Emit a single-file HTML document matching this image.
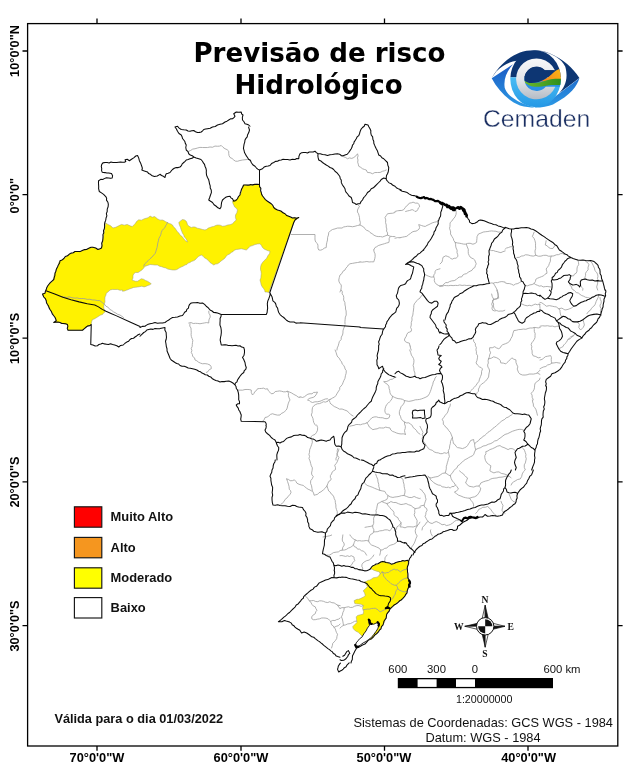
<!DOCTYPE html>
<html lang="pt-BR">
<head>
<meta charset="utf-8">
<title>Previsão de risco Hidrológico</title>
<style>
html,body{margin:0;padding:0;background:#fff;}
body{width:642px;height:768px;overflow:hidden;position:relative;font-family:"Liberation Sans",sans-serif;}
svg{position:absolute;left:0;top:0;display:block;}
.ax{font-family:"Liberation Sans",sans-serif;font-weight:bold;font-size:12.8px;fill:#000;}
.title{font-family:"DejaVu Sans","Liberation Sans",sans-serif;font-weight:bold;font-size:26.1px;fill:#000;}
.leg{font-family:"Liberation Sans",sans-serif;font-weight:bold;font-size:12.9px;fill:#111;}
.sb{font-family:"Liberation Sans",sans-serif;font-size:11.3px;fill:#111;}
.crs{font-family:"Liberation Sans",sans-serif;font-size:12.8px;fill:#111;}
.cmp{font-family:"Liberation Serif",serif;font-weight:bold;font-size:9.6px;fill:#111;}
.logo{font-family:"Liberation Sans",sans-serif;font-size:24.6px;fill:#1b2f62;}
</style>
</head>
<body>
<svg width="642" height="768" viewBox="0 0 642 768">
<rect x="0" y="0" width="642" height="768" fill="#fff"/>
<!-- map -->
<g stroke-linejoin="round" stroke-linecap="round">
<path fill="#fff200" stroke="#9a9a7a" stroke-width="0.5" d="M370.23 569.06L371.64 566.95L372.95 565.89L374.45 565.12L376.35 564.77L377.97 563.72L380.78 562.03L382.53 561.72L384.3 561.75L386.13 561.99L387.81 562.73L389.42 563.81L391.33 564.14L394.14 563.44L395.95 562.86L397.66 562.03L399.45 561.87L401.17 561.33L402.95 561.28L404.69 560.91L407.5 560.34L408.62 561.33L407.93 563.03L408.2 564.84L407.74 566.61L407.22 568.36L407.02 570.15L407.5 571.88L407.51 574L407.92 576.09L408.07 577.95L408.91 579.61L409.32 581.35L409.61 583.12L408.9 585.18L408.62 587.34L407.85 589.07L407.22 590.86L406.69 592.69L405.81 594.38L405.14 595.94L403.98 597.19L402.49 598.51L401.17 600L400.02 601.39L398.36 602.11L396.71 602.84L395.55 604.22L394.35 605.56L392.73 606.33L391.66 608.07L389.92 609.14L389.2 611.1L387.81 612.66L386.71 614.26L386.41 616.17L385.85 617.99L385 619.69L384.63 621.58L383.59 623.2L382.94 625.2L381.48 626.72L380.82 628.71L379.38 630.23L377.82 631.87L376.56 633.75L375.06 635.06L373.75 636.56L371.64 638.67L370.23 639.38L368.04 640.25L366.02 641.48L365.72 639.49L364.55 637.73L364.52 635.66L363.91 633.75L362.5 636.56L360.39 634.45L358.28 632.34L355.47 630.94L353.36 628.83L352.66 626.72L354.77 624.61L356.88 622.5L356.59 619.69L356.17 616.88L357.58 615.47L360.39 614.77L363.2 614.06L363.62 611.25L362.5 608.44L363.2 605.62L361.09 604.22L358.28 603.94L356.51 603.87L354.77 603.52L354.06 600.7L356.88 599.3L358.7 599.26L360.39 598.59L363.2 597.19L365.31 595.78L364.61 592.97L363.2 590.86L365.31 588.75L367.42 586.64L366.02 583.83L364.61 581.72L366.48 581.31L368.12 580.31L370.02 579.97L371.64 578.91L373.24 577.8L375.16 577.5L377.05 577.14L378.67 576.09L380.08 573.98L379.38 571.88L376.56 571.17L373.75 570.19L372.12 569.23ZM105.76 222.99L107.91 224.42L110.77 225.85L112.92 228L115.78 227.28L118.64 225.85L121.5 224.42L124.36 225.13L127.23 224.42L130.09 225.85L132.24 226.57L134.38 224.42L135.6 223.1L136.53 221.56L138.68 219.84L141.54 220.13L144.4 218.69L147.26 217.98L148.78 217.19L150.13 216.12L152.27 217.26L154.42 216.55L155.94 217.5L157.28 218.69L160 220.13L162.5 220L164.21 220.76L165.76 221.81L167.5 222.5L169.08 223.51L170.95 223.94L172.5 225L173.47 226.87L175.12 228.24L176.25 230L177.4 231.74L179 233.14L180 235L182.15 236.6L183.75 238.75L185.35 240.69L187.5 242L186.77 240.14L185.81 238.4L184.28 236.97L183.75 235L182.52 233.31L181.81 231.38L181.04 229.5L180.5 227.5L179.44 225.07L178.75 222.5L180.55 220.91L182.5 219.5L184.57 219.96L186.25 221.25L187.05 223.07L187.5 225L189.3 226.37L191.25 227.5L193.08 226.93L195 227L197.39 228.2L200 228.75L202.48 229.44L205 230L206.76 229.36L208.22 228.11L210 227.5L211.85 226.81L213.81 226.42L215.58 225.48L217.5 225L220.12 225.14L222.5 226.25L225.08 225.95L227.5 225L230.07 224.64L232.5 223.75L234.22 221.72L236.25 220L235.42 217.57L235.5 215L236.83 212.63L237.5 210L236.34 208.27L234.64 206.94L233.75 205L232.88 203.21L232.5 201.25L233.99 200.07L235.96 199.84L237.5 198.75L238.51 196.71L240 195L241 193.12L241.44 191.07L241.4 188.88L242.59 187.06L243 185L245.33 184.89L247.67 185.25L250 185L252.39 185.2L254.74 184.53L257.1 184.22L259.5 184.5L259.5 186.6L260.45 188.48L260.39 190.59L261.25 192.5L261.91 194.25L262.7 195.94L263.75 197.5L265.39 199.61L267.5 201.25L269.3 202.61L271.25 203.75L272.54 205.6L273.75 207.5L275.87 208.38L277.5 210L279.31 210.81L281.25 211.25L283.16 212.44L285 213.75L286.87 215.01L288.75 216.25L290.44 217.51L292.5 218L294.55 217.46L296.69 217.93L298.75 217.5L297.13 219.13L295 220L293.75 222.5L268.75 292.5L266.9 292.05L265 292L264.66 290.27L263.75 288.75L262.3 287.01L261.25 285L260.67 282.49L260 280L260.88 278.01L260.97 275.86L261.25 273.75L261.04 271.66L260.5 269.61L260.5 267.5L261.09 264.84L262.5 262.5L264.27 260.52L266.25 258.75L267.26 257.04L268.17 255.25L269.5 253.75L270 251.25L268.07 250.8L266.25 250L264.17 249.05L262.5 247.5L261.42 245.51L260 243.75L257.47 243.96L255 244.5L252.59 245.62L250 246.25L248.31 248.31L246.25 250L243.75 249.36L241.25 248.75L238.76 249.18L236.25 249.5L234.36 250.13L232.99 251.63L231.25 252.5L229.7 253.91L227.69 254.69L226.25 256.25L224.63 258.38L222.5 260L220.8 261.2L219.27 262.63L217.5 263.75L215.53 264.08L213.75 265L211.9 263.71L210 262.5L208.31 260.44L206.25 258.75L204.38 257.76L203.02 256.12L201.25 255L198.75 256.25L196.81 258.06L195 260L193.35 260.87L191.55 261.43L190 262.5L188.19 263.04L186.84 264.51L185 265L183.43 266.02L181.73 266.79L180 267.5L178.46 268.6L176.86 269.56L175 270L172.48 269.97L170 269.5L167.82 269.12L165.89 267.97L163.75 267.5L161.65 266.71L159.44 266.19L157.5 265L154.99 265.01L152.5 264.7L150 264.5L147.55 265.5L145 266.25L143.57 268.15L141.97 269.89L140 271.25L138.1 272.54L135.65 272.46L133.75 273.75L132.93 275.77L132.98 278.03L132 280L133.79 280.63L135.56 281.3L137.5 281.25L139.41 280.05L141.25 278.75L143.48 279.22L145.42 280.41L147.5 281.25L149.41 282.45L151.25 283.75L149.72 284.86L147.9 285.38L146.25 286.25L144.1 286.93L141.84 286.21L139.68 286.67L137.5 287L135.6 287.31L133.65 287.45L131.84 288.16L130 288.75L128.2 289.61L126.33 290.24L124.49 290.97L122.5 291.25L122.5 290L119.97 290.3L117.52 289.39L115 289.5L112.47 289.41L110 290L108.26 291.78L106.25 293.25L105.92 295.22L105 297L104.86 299.5L105 302L104.24 304.02L103.75 306.08L103.75 308.25L104.69 310.02L105 312L103.55 313.05L102.5 314.5L100.69 315.04L99.06 315.95L97.5 317L95.91 317.99L94.31 318.95L92.5 319.5L91.56 321.92L91.25 324.5L89.66 325.49L87.98 326.28L86.25 327L84.34 328.59L82.5 330.25L68 330.25L67.7 328.34L68 326.39L67.5 324.5L65.56 324.25L63.63 323.94L61.89 322.94L60 322.5L57.92 322.37L55.83 322.18L53.75 322.5L56.25 320.75L55.6 318.99L54.95 317.24L53.75 315.75L52.88 313.44L51.25 311.59L50 309.5L49.17 307.83L48.03 306.32L47.5 304.5L46.68 302.69L46.25 300.75L45.07 298.83L43.75 297L42.5 294L45 293.25L45.23 291.24L46.25 289.5L47.25 287.92L47.62 286.02L48.75 284.5L50.38 282.79L52.42 281.5L53.75 279.5L53.76 277.34L54.13 275.24L55 273.25L55.78 271.14L56.38 268.97L57.5 267L58.54 265L58.71 262.65L60 260.75L62.06 259.78L63.95 258.55L65.78 257.24L67.5 255.75L69.34 254.62L71.14 253.44L73.2 252.7L75 251.5L77.5 251.51L80 251.5L82.86 250.18L84.63 249.74L86.44 249.46L89.3 248.03L91.06 247.52L92.88 247.32L95.74 248.03L97.89 249.46L100.04 248.75L101.47 248.03Z"/>
<path fill="none" stroke="#9c9c9c" stroke-width="0.8" d="M341.25 156.25L343.49 156.7L345.59 157.49L347.5 158.75L349.5 157.91L351.77 158.41L353.75 157.5L355.89 155.89L357.5 153.75L358.1 155.8L357.43 157.95L358 160L357.66 162.15L358.31 164.19L358.75 166.25L360.73 167.35L362.5 168.75L364.36 169.43L366.25 170L367.5 172.5L370.11 172.68L372.5 173.75L374.85 172.54L377.5 172.5L380.14 172.44L382.5 171.25L384.43 170.8L386.25 170M291.25 234.5L315 234.5L314.97 237.25L315 240L315.8 242.17L317.5 243.75L318 245.82L317.88 248.01L318.75 250L320.68 250.15L322.5 249.5L324.21 248.18L326.25 247.5L326.36 244.95L326.83 242.46L327.5 240L327.6 237.45L328.44 235.02L328.75 232.5L330.44 230.77L332.5 229.5L334.98 228.9L337.41 228.05L340 228L341.99 228.06L343.71 226.95L345.61 226.64L347.5 226.25L350 226.35L352.5 226.75L355 226.25L357.48 225.53L360 225L360.35 222.47L359.67 220L359.5 217.5L359.04 215.61L358.53 213.74L357.42 212.03L357.5 210L358.43 208.09L359.5 206.25L357.5 204.5M360 225L361.9 225.94L363.7 227.01L365 228.75L366.44 230.3L368.58 230.92L370 232.5L372.1 233.72L374.02 235.24L376.25 236.25L378.32 236.57L380.44 236.54L382.5 237L385.01 236.02L387.5 235L390 236.25L392.49 236.5L395 236.62M387.5 235L387.6 232.96L386.52 231.06L386.82 228.99L386.19 227.04L386.25 225L385.56 222.55L385.75 219.94L385 217.5L386.26 215.63L387.5 213.75L390.01 213.41L392.55 213.23L395 212.5M390 237L389.08 238.72L389.24 240.68L388.75 242.5L386.52 242.99L384.37 243.74L382.18 244.36L380 245L378.23 245.62L376.69 246.72L375 247.5L373.86 249.77M360 262.08L357.5 262.5L354.99 262.88L352.5 263.36L350 263.75L348.32 264.97L347.31 266.72L345.89 268.15L345 270L342.95 271.28L341.88 273.54L340 275L339.3 277.48L338.75 280L339.09 281.91L340.04 283.52L341.25 285L341.28 287.41L340.88 289.75L340 292M188.75 151.25L190.81 150.35L192.72 149.09L195 148.75L197.45 148.02L199.91 147.39L202.5 147.5L205.01 147.54L207.52 147.52L210 147L212.55 147.24L214.96 146.07L217.5 146.25L219.43 146.14L221.25 145.5L222.99 147.28L225 148.75L227.12 149.63L228.75 151.25L228.7 153.43L229.01 155.53L230 157.5L232.07 158.46L233.75 160L235.45 161.16L237.5 161.25L239.97 160.5L242.5 160L245 159.73L247.5 159.5L250 159.5M395 211.5L397.46 210.8L400 210.5M395 238.25L397.46 237.62L400 237.75M410.25 346L410.47 348.07L411.25 350M341.25 290L342.34 291.72L342.11 293.88L343.38 295.54L343.75 297.5L343.63 300.09L344.89 302.45L345 305L345.54 306.96L345.49 309L346.13 310.95L346.16 312.98L346.25 315L345.38 317.11L345.15 319.31L344.93 321.51L345 323.75M345 325L344.34 326.96L343.5 328.88L342.97 330.87L342.94 332.99L342.5 335L341.31 337.08L341.14 339.6L339.42 341.45L338.75 343.75L338.21 345.87L337.24 347.88L336.94 350.07M330.09 399.2L328.75 400L327.5 401.25M300 396.67L302.5 397.5L304.46 396.72L306.13 395.39L307.87 394.19L310 393.75L312 393.83L313.64 392.42L315.62 392.4L317.5 392L316.42 394.22L315 396.25L313.24 397.41L311.12 397.86L309.11 398.53L307.5 400L309.3 400.57L310.75 401.84L312.5 402.5L314.96 401.84L317.51 401.74L320 401.25L321.83 400.5L323.62 399.61L325.49 398.98L327.5 398.75M328.75 400L330.09 402.23M327.5 401.25L325.59 402.1L323.38 401.76L321.5 402.75L319.58 403.59L317.5 403.75L315.53 404.6L313.8 405.76L312.5 407.5L312.14 410.01L312.11 412.57L311.25 415L312.24 416.75L312.98 418.59L313.31 420.56L313.75 422.5L315.36 425.18M188.75 323L191.04 322.57L193.24 323.5L195.51 323.3L197.76 323.44L200 323.75L202.17 323.35L204.34 322.97L206.51 322.57L208.75 323L208.79 320.96L209.19 318.97L210.25 317.09L210 315L208.93 313.27L208.75 311.25M190 323.75L189.74 326.02L190.98 328.07L191.11 330.29L191.25 332.5L191.1 334.55L191.35 336.55L192.08 338.49L192.8 340.43L192.5 342.5L192.28 344.5L192.16 346.52L191.23 348.44L191.88 350.55L191.25 352.5L192.34 354.3L192.68 356.47L194.58 357.86L195 360L196.92 360.84L198.58 362.22L200.48 363.11L202.5 363.75L205.09 363.6L207.59 364.01L210 365L211.14 366.7L211.25 368.75L209.27 369.58L208.1 371.49L206.25 372.5M237.5 390L240.02 390.14L242.53 390.16L245 389.5L247.1 389.47L249.19 389.55L251.25 390L251.32 392.64L252.5 395L253.86 393.53L254.77 391.69L256.46 390.48L257.5 388.75L259.5 388.52L261.5 388.47L263.5 388.13L265.5 389.07L267.5 388.75L268.34 390.73L269.87 392.18L271.25 393.75L273.54 393.43L275.2 391.54L277.5 391.25L279.5 390.92L281.5 391.22L283.5 391.82L285.5 391.81L287.5 391.25L289.44 392.06L291.39 392.85L293.16 393.98L295 395L296.67 395.83L298.1 397.14L300 397.5M287.5 391.25L288.5 393.33L288.39 395.73L289.09 397.89L290 400L288.88 401.86L288.18 403.88L287.63 405.95L287.2 408.07L286.25 410L284.83 411.42L283.23 412.63L281.34 413.48L280 415L277.41 415.1L274.94 414.54L272.5 413.75L270.48 414.41L268.89 415.91L267.12 417.05L265 417.5L264.23 419.7L262.5 421.25M62.88 296.5L64.87 297.09L66.87 297.55L69.03 296.76L71 297.5L73.02 297.87L75.04 298.15L77.13 297.9L79.12 298.5L81.17 298.56L83.23 298.5L85.26 298.8L87.25 299.38L89.78 299.28L92.24 299.92L94.75 300L97.23 300.5L99.75 300.62L102.25 302.5L104.39 304.11L106 306.25L108.26 307.35L109.75 309.38L111.74 310.45L113.5 311.88L116 313.12L117.76 314.41L119.95 314.97L121.74 316.2L123.5 317.5M422.5 295L420.92 296.29L420 298.12L418.25 299.13L416.88 300.62L415.66 302.21L414.38 303.75L413.77 305.58L413.75 307.5L413.49 310.01L413.12 312.5L412.83 315.08L411.88 317.5L412.05 320.06L411.25 322.5L411.26 325.04L410.62 327.5L411.5 329.28L411.25 331.25L409.76 332.06L408.12 332.5L406.91 334.24L406.25 336.25L405.1 338.02L404.38 340L405.33 341.55L406.88 342.5L409.38 343.12L410 346M373.75 250L374.13 251.96L375 253.75L375.16 256.26L374.75 258.75L373.75 261.88L371.46 261.81L369.17 261.96L366.88 261.52L364.58 261.85L362.29 262.17L360 261.88M425 274.38L426.8 275.47L428.75 276.25L431.18 277.14L433.75 276.88L433.82 274.93L435.04 273.23L435 271.25L436.4 269.88L438.2 269.32L440 268.75M433.75 276.88L434.49 278.68L434.29 280.69L435 282.5L436.34 284.19L438.15 285.24L440 286.25M380.08 573.98L382.19 571.88L385 573.28L386.69 572.57L388.52 572.58L389.75 571.29L391.33 570.47L394.14 569.06L395.8 569.9L397.66 569.77L399.06 570.83L400.47 571.88L402.15 570.7L403.98 569.77L405.92 569.51L407.5 568.36M382.19 571.88L383.2 573.88L383.59 576.09L385.04 577.82L386.41 579.61L388.14 581.05L389.92 582.42L391.14 583.73L392.73 584.53L394.43 585.19L396.25 585.23L397.78 583.95L399.06 582.42L400.7 580.87L402.58 579.61L404.25 578.71L406.09 578.2L408.2 577.5M396.25 585.23L397.35 586.83L397.66 588.75L399.2 590.17L401.17 590.86L402.88 591.54L404.69 591.84L406.8 591.28M397.66 588.75L396.35 590.36L395.55 592.27L395.23 594.18L394.14 595.78L392.73 598.59L390.62 600M363.2 609.84L365.3 609.42L367.42 609.14L369.59 609.12L371.64 608.44L373.41 608.4L375.16 608.16L377.97 609.84L380.08 611.95L382.89 610.55L385.7 609.14M340 608.44L342.03 607.63L344.22 607.73L346.32 607.19L348.44 606.75L350.49 607.5L352.66 607.31L354.65 606.16L356.88 605.62L359.05 605.6L361.09 606.33L363.2 605.62M340 628.12L341.61 626.52L343.52 625.31L345.7 624.85L347.73 623.91L350.31 623.61L352.66 622.5L354.48 621.39L356.59 621.09M344.22 607.73L343.93 610.31L342.81 612.66L342.41 614.87L341.41 616.88L342.31 618.92L342.81 621.09L343.14 623.2L343.52 625.31M340 555.7L341.93 555.52L343.77 555.96L345.62 556.41L347.45 555.79L349.45 556.52L351.25 555.7L354.06 557.11L354.14 558.92L354.77 560.62L352.66 562.73L352 564.44L350.55 565.55M362.5 570.19L362.71 568.12L361.8 566.25L362.04 564.31L363.2 562.73L364.89 561.55L366.72 560.62L369.1 560.11L370.94 558.52L372.63 556.99L373.75 555M384.3 561.75L384.93 559.83L385 557.81L385.99 556.36L387.11 555M450.37 404.05L450.05 406.19L448.86 408.04L448.35 410.12L447.75 412.06L446.64 413.69L445.31 415.19L443.9 417.3L442.27 419.24L443.35 421.66L443.29 424.3L444.73 425.56L445.73 427.26L447.34 428.35L448.66 430.52L450.37 432.4L451.38 434.93L452.4 437.46L452.57 439.51L453.12 441.51L453.41 443.54L455.07 444.58L456.02 446.33L457.46 447.59L460.01 447.98L462.52 448.6L464.36 447.84L466.16 447.01L467.59 445.56L468.53 443.83L469.69 442.23L470.62 440.5L473.66 439.49L473.87 441.59L474.67 443.54L476.64 441.94L478.72 440.5L479.83 438.91L481.61 437.99L482.77 436.45L484.75 435.47L486.36 434.02L487.83 432.4L489.67 431.24L491.48 430.04L492.9 428.35L494.73 427.17L496.38 425.79L497.96 424.3L499.61 422.91L501.19 421.42L503.02 420.25L504.79 419.37L506.14 417.8L508.08 417.21L510.05 415.81L512.13 414.58M474.67 443.54L474.66 445.62L475.09 447.63L475.69 449.61L474.53 452.08L473.66 454.67L472.13 455.95L470.34 456.78L468.6 457.71L466.94 458.77L465.15 459.61L463.54 460.75L462.27 462.18L460.69 463.3L459.49 464.8L457.76 465.77L457.07 467.78L455.44 468.85L453.77 470.76L452.4 472.9L451.1 474.22L450.37 475.93L448.61 475.04L446.99 473.92L445.31 472.9L442.56 473.36L440.25 474.92L437.93 476.47L435.19 476.95L433.15 477.4L431.14 477.96L429.44 477.63L428.1 476.54M452.4 437.46L451.39 439.38L450.53 441.34L450.37 443.54L449.67 445.89L449.5 448.4L448.35 450.62L448.6 452.66L448.97 454.68L449.36 456.7L448.43 458.64L448 460.74L447.34 462.77L446.83 464.77L446.26 466.76L446.32 468.85L445.79 470.87L445.31 472.9M426.07 445.56L427.5 446.83L428.38 448.65L430.12 449.61L432.31 450.3L434.07 451.84L436.2 452.65L438.25 452.86L440.19 453.64L442.27 453.66L444.19 452.73L446.46 453.3L448.35 452.24M475.69 449.61L478.15 448.43L480.75 447.59L483.08 446.06L485.81 445.56L488.24 444.29L490.87 443.54L492.84 442.42L494.65 440.97L496.95 440.5L498.91 438.9L501 437.46L502.97 435.86L505.05 434.42L507.67 433.64L510.11 432.4L512.57 431.21L515.17 430.37L517.15 429.75L519.17 429.36L521.25 429.36L524.28 430.37M515.17 450.62L513.82 449.36L512.13 448.6L509.97 448.58L508.08 449.61L506.07 448.57L504.03 447.59L501.85 446.89L499.98 445.56L497.31 446.23L494.92 447.59L492.44 448.72L489.86 449.61L488 450.94L485.81 451.64L485.93 453.74L484.8 455.63L484.8 457.71L485.45 460.38L486.82 462.77L488.75 464.42L490.87 465.81L490.4 468.35L489.86 470.87L491.85 471.95L493.91 472.9L496.37 472.06L498.97 471.88L501.29 473.43L504.03 473.91L506.63 474.75L509.1 475.93L511.12 477.96M459.49 470.87L461.41 472.53L463.54 473.91L464.61 475.54L465.96 476.89L467.59 477.96L466.61 480.5L465.56 483.02L467.26 484.36L468.6 486.06L471.12 486.62L473.66 487.07L476.1 486.11L478.72 486.06L480.08 484.77L480.75 483.02L483.21 481.84L485.81 481L488.5 480.39L490.87 478.97L492.85 478.35L494.9 478.15L496.95 477.96L498.92 477.32L500.98 477.2L503.02 476.95L505.02 476.42L507.03 476.06L509.1 476.54M450.37 475.93L451.13 478.57L452.4 481L454.14 482.86L455.44 485.05L457.21 486.89L458.47 489.1L456.59 490.81L454.42 492.13L456.46 493.63L458.47 495.17L461.04 496.1L463.54 497.2L465.54 497.7L467.55 498.07L469.61 498.21L472.09 497.34L474.67 496.79L477.05 495.37L478.72 493.15L480.14 490.78L480.75 488.08L478.72 486.06M428.1 476.54L429.86 477.66L430.5 479.79L432.15 481L433.89 482.77L436 483.99L438.22 485.05L440.39 485.3L442.14 486.79L444.3 487.07L446.3 487.57L448.45 487.15L450.37 488.08L451.75 486.55L454.04 486.54L455.44 485.05M469.61 498.21L470.98 500.35L472.65 502.26L473.46 504.21L473.66 506.31M522.26 447.59L523.7 449.02L524.67 450.74L525.3 452.65L525.96 454.62L525.64 456.75L526.31 458.72L525.81 460.81L525.37 462.91L524.28 464.8L524.3 467.43L525.3 469.86L523.49 471.67L522.26 473.91L521.63 476.59L520.23 478.97L517.52 479.53L515.17 481L513.58 481.9L512.13 483.02L511.12 485.05M475.69 513.4L477.48 511.58L478.72 509.35L480.84 508.52L482.77 507.32L485.4 507.29L487.83 506.31L489.1 508.08L490.87 509.35L492.05 511.63L493.91 513.4L495.23 514.71L495.93 516.43M501 501.25L501.8 503.38L503.02 505.3L502.48 507.82L502.01 510.36L503.32 512.09L505.05 513.4M509.1 494.16L510.18 496.66L511.12 499.22L512.86 501.12L515.17 502.26M532.38 400L532.65 402.03L533.35 404L533.4 406.07L534.69 407.59L535.8 409.22L536.43 411.14L536.95 413.16L537.45 415.19M420 489.1L421.74 490.06L422.73 491.77L424.05 493.15L425.14 495.03L425.41 497.19L426.07 499.22L425.4 501.25L424.68 503.26L424.05 505.3L424.68 507.22L426.6 508.36L427.09 510.36L426.01 512.25L425.77 514.42L425.06 516.43L426.01 518.16L426.91 519.92L428.1 521.5L429.94 522.89L432.15 523.52L434.11 522.37L436.2 521.5L438.27 522.42L440.25 523.52L442.09 524.74L444.46 524.37L446.32 525.55L448.39 525.2L450.37 524.53L452.5 523.15L454.42 521.5L456.26 520.27L458.52 520.28L460.5 519.47M424.05 505.3L421.97 505.59L420 506.31M428.1 521.5L426.37 522.47L425.55 524.35L424.05 525.55L422.49 527.53L422.02 530M420 426.32L421 428.35L422.04 430.36L423.04 432.4L422.21 434.34L422.93 436.54L422.02 438.47L422.8 440.38L423.91 442.09L425.23 443.69L426.07 445.56M365.01 483.57L367.08 485.33L369.61 486.32L372.2 487.18L374.67 488.35L377.22 489.33L379.74 490.37L382.26 490.91L384.8 491.39L386.05 493.62L387.83 495.44L387.67 497.55L386.82 499.49L384.32 500.57L381.76 501.51L379.78 502.61L377.71 503.54L377.14 506.06L376.7 508.6L375.96 510.56L376.28 512.69L375.69 514.67M387.83 495.44L390.21 496.83L392.9 497.46L394.9 497.01L396.95 496.79L398.97 496.45L401.44 495.67L404.03 495.44L406.56 496.46L409.1 497.46L411.75 497.53L414.16 496.45L416.62 497.64L419.22 498.47L420.23 498.27M404.03 495.44L404.89 492.98L405.05 490.37L404.5 488.38L404.15 486.36L404.03 484.3L403.28 481.82L403.02 479.24L401 477.82M381.76 501.51L384.25 502.62L386.82 503.54L388.21 505.67L389.86 507.59L391.13 509.35L392.9 510.62L393.96 512.51L393.91 514.67L395.77 516.41L397.96 517.71L398.56 519.64L399.94 521.11L401 522.77L401.03 524.93L399.98 526.82L402.56 527.08L405.05 527.83L406.97 526.89L409.03 526.78L411.12 526.82L413.23 527L415.2 526.28L417.2 525.81L418.72 524.1L419.93 522.16M386.82 503.54L389.01 502.85L390.87 501.51L393.3 502.51L395.93 502.52L398.41 503.66L401 504.55L403.56 504.19L406.06 503.54L408.53 504.7L411.12 505.56L413 507.27L415.17 508.6L417.72 508.21L420.23 507.59M415.17 508.6L414.61 510.59L414.85 512.71L414.16 514.67L414.99 516.79L416.23 518.7L417.2 520.75L416.87 523.28L417.2 525.81M401 522.77L400 524.47L398.58 525.75L396.95 526.82L396.45 529.1L394.92 530.87M417.2 525.81L415.87 528.21L415.17 530.87L415.71 533.59L417.2 535.93L416.01 538.39L415.17 541L414.31 543.1L413.15 545.05L411.78 546.9L411.12 549.1M430.76 529.86L430.36 530.87L431.04 533.53L432.38 535.93M379.74 490.37L379.48 488.33L378.76 486.37L378.72 484.3L377.97 481.82L377.71 479.24L376.61 476.74L375.69 474.17M331.64 535.05L329.84 535.76L327.95 536.13L326.07 536.54L323.04 536.95M365.05 527.33L367.59 526.82L370.15 526.49L372.65 525.81L373.68 523.39L373.66 520.75L373.62 518.11L374.67 515.69M372.65 525.81L372.9 527.85L373.89 529.76L373.66 531.88L372.64 533.56L370.69 534.31L369.61 535.93L369.01 538.45L368.6 541L369.7 543.34L371.64 545.05L374.19 546L376.7 547.07L379.09 548.11L380.75 550.11L380.38 552.67L379.74 555.17M350.03 534.92L350.37 535.93L351.99 537.37L353.41 539.05L355.44 539.98L357.36 540.91L359.49 540.63L361.51 541L363.87 540.89L366.24 540.51L368.6 541M355.44 539.98L354.26 542.45L353.41 545.05L351.91 546.37L350.26 547.44L348.35 548.08L346.51 549.33L344.49 550.02L342.27 550.11L340.17 550.57L338.37 551.9L336.2 552.13L333.45 552.61L331.14 554.16L329.24 555.16L327.09 555.17M353.41 545.05L354.44 546.72L356.44 547.42L357.46 549.1L359.68 549.21L361.43 550.7L363.54 551.12L365.31 552.95L366.57 555.17M380.75 550.11L382.87 549.71L384.67 548.39L386.82 548.08L388.51 546.12L390.87 545.05L393.53 544.35L395.93 543.02L397.96 540.59M373.66 531.88L375.73 531.8L377.79 531.64L379.74 530.87L382.33 530.64L384.8 529.86L387.43 529.86L389.86 530.87L391.01 529.27L392.11 527.63L392.9 525.81M342.85 534.92L342.61 536.95L342.27 538.97L342.44 541.17L343.91 542.93L344.3 545.05L342.75 547.37L342.27 550.11M473.41 339.61L473.83 341.72L475.34 343.47L475.44 345.69L476.37 347.61L475.93 349.77L476.45 351.76L476.4 353.85L477.64 355.72L477.46 357.83L476.98 360.43L476.04 362.9L477.55 365.11L479.49 366.95L481.23 367.62L482.52 368.97L481.58 371.41L481.51 374.03L480.52 376.57L479.49 379.1L478.96 381.37L477.46 383.15L476.07 385.27L474.42 387.2L473 388.48L471.77 389.95L470.37 391.25L469.36 393.27M488.6 358.85L488.05 360.84L488.36 362.97L487.59 364.92L487.91 367.06L489.1 368.92L489.61 371L489.1 372.99L488.78 375.02L488.6 377.07L487.16 379.16L485.56 381.12L483.62 382.75L481.51 384.16L480.2 385.48L479.49 387.2L478.45 389.09L478.47 391.25L477.17 392.57L476.45 394.28M488.6 358.85L489.35 356.85L489.7 354.72L490.62 352.77L489.58 350.35L489.61 347.71L492.26 347.78L494.67 346.7L496.58 347.94L498.72 348.72L500.36 347.66L501.27 345.87L502.77 344.67L505.35 343.78L507.83 342.65L509.82 340.98L510.87 338.6L512.27 336.22L512.9 333.54L513.91 330.5L516.29 330.29L518.6 329.59L521 329.49L523.35 329.06L525.79 329.29L528.08 328.47L530.08 327.98L532.17 328.02L534.16 327.46L536.19 327.59L538.21 327.95L540.24 327.46M488.6 358.85L491.27 358.19L493.66 356.82L496.29 357.59L498.72 358.85L500.29 360.6L500.75 362.9L503.34 363.12L505.81 363.91L507.09 362.49L508.59 361.29L509.86 359.86L511.88 357.83L513.73 359.2L515.93 359.86L515.97 362.48L516.95 364.92L517.85 366.85L517.22 369.04L517.96 371L518.65 372.73L519.98 374.03L522.43 374.99L525.05 375.05L527.09 374.8L529.05 374.09L531.12 374.03L533.22 374.12L535.24 373.73L537.2 373.02L539.9 374.37M534.16 327.46L534.27 329.52L534.33 331.6L535.17 333.54L535.02 335.59L535 337.67L534.16 339.61L533.09 341.26L531.82 342.79L531.12 344.67L531.82 346.64L531.49 348.77L532.13 350.75L532.12 353.39L533.15 355.81L535.8 356.51L538.21 357.83L540.23 357.49M539.98 370.24L539.22 371L537.2 373.02M540.03 378.09L539.22 380.11L537.12 381.52L535.17 383.15L534.62 385.14L534.54 387.2L534.16 389.22L532.93 391.46L531.12 393.27L532.09 395.2L532.18 397.42L533.15 399.35L533.23 399.86M491.64 294.05L492.31 296.71L493.66 299.11L492.7 301.66L491.64 304.17L492.48 306.11L491.94 308.29L492.65 310.25L494.62 310.92L496.75 310.6L498.72 311.26L500.76 311.02L502.85 311.07L504.8 310.25M493.66 299.11L496.28 299.07L498.72 298.1L498.24 295.56L497.71 293.04L496.7 290M534.13 232.13L533.29 234.28L532.41 236.42L534.05 238.35L534.98 240.7L535.56 243.24L535.5 245.84L535.68 248.45L534.98 250.98L535.19 253.16L535.84 255.26L533.33 256.12L530.7 255.78L528.18 255L525.56 254.75L523.54 255.8L521.28 256.12L519.31 257.35L516.99 257.49M535.84 255.26L538.32 256.21L540.98 256.12L543.49 255.35L546.12 255.26L548.6 256.22L551.26 256.12L553.95 255.87L556.4 254.75L558.67 254.61L560.69 253.55L562.51 253.55L564.11 254.41M546.12 240.7L545.75 242.85L545.26 244.98L547.27 245.87L548.69 247.55L550.73 248.5L552.98 248.41L554.69 245.84M551.26 256.12L550.41 258.62L550.4 261.26L549.4 263.35L548.69 265.55L547.45 267.3L546.12 268.97L546.74 271.08L546.98 273.26L545.02 274.22L543.55 275.83L541.42 276.71L539.27 277.54L537.48 278.25L535.84 279.25L535.4 281.56L534.13 283.54L532.09 284.55L529.84 284.91L527.61 285.79L525.22 285.59M534.13 283.54L535.72 284.63L537.53 285.31L539.27 286.11L541.3 285.84L543.22 286.91L545.26 286.62L547.16 286.44L549.04 286.74L550.92 286.96M505 249.27L506.52 248.03L508.43 247.55L510.07 246.85L511.85 246.7M505 282.68L507.06 283.52L509.28 283.54L511.5 284.2L513.57 285.25L515.56 284.01L517.85 283.54L519.56 282.5L521.28 281.48M577.82 259.89L578.47 262.25L578.68 264.69L577.36 266.64L576.96 268.97L577 271.21L576.11 273.26L574.41 274.13L573.54 275.83L570.97 275.83M585.53 261.26L587.63 262.59L588.96 264.69L588.05 267.18L588.1 269.83L586.65 271.42L585.53 273.26L585.6 275.31L584.98 277.26L584.67 279.25M590.67 261.26L592.18 263.27L593.24 265.55L594.38 268.03L594.95 270.69L596.53 272.18L597.52 274.11L597.97 276.26L597.49 278.53L598.38 280.62M580.39 283.54L580.69 285.53L581.63 287.2L582.96 288.68L582.7 290.22M597.52 280.97L597.73 283.04L597.21 285L596.67 286.96L597.7 290.04M569.77 283.54L570 285.44L571.65 286.76L571.82 288.68L573.54 289.97M522.13 304.1L524.61 305.22L527.27 305.81L529.23 305.27L531.35 305.82L533.27 304.95L535.19 304.07L537.32 304.76L539.27 304.1L540.22 304.48M539.27 304.1L539.83 305.94L540.01 307.85M539.98 308.87L539.27 311.29M540 302.5L541.72 302.74L543.12 303.75L544.78 304.88L546.25 306.25L549.38 305.62L552.5 306.25L554.36 306.68L556.25 306.88L558.75 308.75L559.95 310.09L560 311.88L560.62 315L561.88 316.88M558.75 308.75L561.88 308.12L563.43 309.08L565 310L568.12 309.38L569.66 308.69L571.25 308.12L573.75 306.25M573.75 290L574.99 291.26L576.25 292.5L578.34 293.02L580 294.38L581.76 295.55L583.75 296.25L585.5 297.25L587.5 297.5L590.62 298.5M586.88 313.75L588.75 311.25L590.32 310.32L591.25 308.75L592.34 307.34L593.75 306.25L594.91 304.82L595.62 303.12L596.11 301.5L596.88 300L598.12 297.5L598.75 294.75M600 297.5L600.33 299.47L601.25 301.25L601.14 303.3L600 305L600.19 307.02L601.25 308.75L600.38 310.53L600.62 312.5M577.5 321.88L579.38 324.38L578.75 327.5L580.62 330L581.87 328.75L583.12 327.5L584.38 325L583.75 322.5L583.12 320M575.62 333.75L573.12 335.62L570.62 336.88L569.36 338.12L568.12 339.38L567.15 340.92L566.25 342.5L564.97 343.72L563.75 345L562.92 346.67L561.25 347.5L558.75 348.75M568.12 339.38L569.98 338.94L571.25 337.5L573.75 335.62M540 326.25L542.48 325.78L545 326L547.52 325.73L550 326.25L552.56 326.08L555 326.88L556.82 326.26L558.75 326.25M540 360L542.05 359.41L543.75 358.12L545.36 356.66L547.5 356.25L550.62 355.62L551.43 357.42L551.25 359.38L551.32 361.29L551.88 363.12L549.84 364.41L547.5 365L545.89 366.47L543.75 366.88L541.82 367.7L540 368.75M551.88 363.12L554.08 362.9L556.25 362.5L558.12 362.84L560 363.12M455.14 208.69L455.88 210.49L456.22 212.35L456.07 214.3L455.06 216.87L453.27 218.97L451.87 221.01L450.09 222.71L450.02 224.59L449.98 226.48L449.53 228.32L450.16 230.14L450.66 231.98L450.47 233.93L451.82 236.29L453.27 238.6L453.83 240.66L455.14 242.34L457.45 242.94L459.81 243.27L461.67 243.67L463.52 244.08L465.42 244.21L467.68 243.38L470.09 243.27L472.9 244.21L474.89 243.51L476.64 242.34L476.71 240.47L476.95 238.6L477.01 236.73L478.5 233.93L480.89 233.12L483.18 232.06L485.51 231.74L487.85 231.5L489.7 231.14L491.57 230.93L493.46 231.12L495.86 231.25L498.13 232.06L500 232.08L501.87 232.06M455.14 242.34L455.59 244.18L455.66 246.09L456.07 247.94L457.13 250.16L457.01 252.62L457.65 254.45L457.94 256.36L456.07 258.22L454.1 258.25L452.34 259.16L450.76 258.49L449.53 257.29L447.69 256.47L445.79 255.79L442.99 257.29L442.54 259.63L442.06 261.96L440.05 263.97M439.93 285.84L442.99 285.33L444.2 283.74L445.79 282.52L447.81 282.64L449.53 281.59L451.82 280.87L454.21 280.65L456.28 279.52L457.94 277.85L459.71 276.97L461.68 276.92L462.71 275.14L464.49 274.11L466.56 273.59L468.22 272.24L470.06 271.24L471.96 270.37L472.98 268.59L474.77 267.57L475.39 265.65L476.26 263.83L475.45 261.99L474.77 260.09L473.53 258.91L471.96 258.22L470.22 257.16L469.16 255.42L468.36 253.63L468.22 251.68L468.31 249.23L467.29 247.01L466.36 244.21M439.93 286.13L442.11 286.32L444.24 285.49L446.42 285.61L448.6 285.7L450.83 285.37L453.1 285.62L455.34 285.39L457.6 285.53L459.81 284.95L462.13 285.44L464.48 285.16L466.81 285.53L469.16 285.33L471.47 285.82L473.83 285.7M400 210.56L401.95 210.41L403.74 209.63L405.12 207.74L406.54 205.89L408.19 204.73L409.35 203.08L411.28 202.87L413.08 202.15L415.32 203.12L417.76 203.08L419.11 204.74L419.63 206.82L418.31 207.97L417.76 209.63L416.7 211.08L414.95 211.5L413.73 210.29L412.15 209.63L409.35 210.56L407.45 210.93L405.61 211.5M400 237.66L402.33 237.19L404.67 236.73L406.8 236.31L408.41 234.86L410.33 233.53L412.15 232.06L413.99 231.34L416 231.15L417.76 230.19L419.08 229.04L419.63 227.38L418.69 224.58L421.5 225.51L423.33 226.11L425.23 226.45L427.03 225.38L428.97 224.58L430.81 223.59L432.71 222.71L434.57 222.19L436.45 221.78L438.32 219.91M489.72 249.81L491.52 250.58L493.53 250.56L495.33 251.31L497.23 251.61L499.05 252.25L500.93 252.62L502.98 251.65L505.14 250.94M489.35 283.46L491.31 282.93L493.39 283.18L495.33 282.52L497.57 282.64L499.69 281.9L501.87 281.59L504.89 282.02M493.46 283.46L494.92 285.76L496.26 288.13L497.25 289.88L497.74 291.79L498.13 293.74L498.1 296.16L497.2 298.41L494.83 299.26L492.52 300.28L492.73 302.17L493.65 303.94L493.46 305.89L493.92 308.16L495.33 310M304.98 595.7L306.4 596.85L307.55 598.27L309.27 600.84L311.41 600.71L313.55 600.5L315.58 601.48L317.83 601.7L319.45 600.87L321.26 600.84L323.47 601.31L325.55 602.21L327.76 602.54L329.83 601.7L331.86 602.69L334.11 602.9L335.82 604.02L337.54 605.12L340.22 605.66M309.27 600.84L310.94 602.27L311.84 604.27L313.26 605.95L315.26 606.84L315.91 608.66L316.98 610.26L315.76 611.8L315.26 613.69L312.69 615.4L311.67 616.97L311.84 618.83L313.43 619.73L315.26 619.69L317.39 619.16L319.55 618.83L321.61 617.99L323.83 617.98L326.03 618.15L328.12 618.83L329.39 620.13L330.69 621.4L331.11 623.12L331.54 624.83L333.1 625.84L334.11 627.4L335.32 628.94L335.83 630.83L336.54 632.61L337.54 634.25L336.98 636.37L336.68 638.54L335.54 640.36L334.11 641.96L332.71 643.4L332.4 645.39L331.54 647.96M337.54 605.12L338.69 606.94L340.11 608.55M330.69 621.4L332.72 620.42L334.97 620.55L336.63 619.6L338.56 619.16L340.11 617.98M334.11 627.4L336.17 626.32L338.4 625.69L340.11 623.97M383.97 381.7L385.54 383.17L387.4 384.27L388.83 386.18L389.11 388.55L389.78 390.64L389.97 392.83L390.92 394.8L392.54 396.26L394.21 397.22L395.97 397.98L398.07 398.61L400.25 398.83L402.53 399.34L404.53 400.55L406.68 400.97L408.82 401.4L410.97 401.04L413.1 400.55L415.18 399.84L417.38 399.69L419.56 399.44L421.67 398.83L423.82 398.01L425.95 397.12L428.1 395.84L429.38 393.69L430.32 391.58L431.09 389.41L431.84 386.81L432.8 384.27L433.22 381.95L434.52 379.98L434.99 378.08L436.23 376.56M383.97 381.7L386.18 381.59L388.26 380.84L390.22 379.53L392.54 379.13L394.03 377.83L395.97 377.41M392.54 396.26L392.06 398.56L390.83 400.55L389.53 401.82L388.26 403.12L386.65 404.59L385.69 406.54L385.12 408.66L384.83 410.83L385.34 412.71L386.54 414.25L388.39 414.15L389.97 415.11L389.11 417.68L387.09 418.7L384.83 418.54L382.76 417.78L380.55 417.68L378.36 417.47L376.26 416.82L374.07 416.99L371.98 417.68L370.82 419.09L369.41 420.25L368.41 421.82L366.84 422.82L364.77 423.7L362.55 424.02L360.47 424.77L358.27 424.53L356.03 424.47L353.99 425.39L351.82 425.72L349.7 426.25M366.84 422.82L368.29 424.86L369.41 427.1L371.16 428.34L372.83 429.67L374.95 429.11L377.12 428.82L379.15 427.85L381.4 427.96L383.64 428L385.69 427.1L387.81 427.63L389.97 427.96L390.8 430.02L392.54 431.39L394.71 432.18L396.82 433.1L398.94 433.68L401.11 433.96L403.27 433.82L405.39 434.3M404.53 400.55L404.2 402.9L402.82 404.83L401.08 406.69L400.25 409.11L399.39 411.61L399.39 414.25L400.46 416.31L401.11 418.54L402.47 420.6L404.53 421.96L404.58 424.18L405.39 426.25L405.2 428.44L404.53 430.53L404.84 432.44L405.39 434.3M404.53 421.96L406.56 422.95L408.82 422.82L410.53 424.1L412.24 425.39L413.08 427.44L414.81 428.82L416.35 430.34L417.38 432.24L419.95 434.17M335.14 350L336.12 352.53L336.85 355.14L337.77 357L339.42 358.37L340.28 360.28L341.62 361.86L342.18 363.96L343.71 365.42L344.58 367.12L345.1 369.01L346.28 370.56L346.16 373.18L345.42 375.7L344.95 378.4L343.71 380.84L343.01 382.63L342.34 384.44L341.14 385.98L339.76 387.43L339.66 389.52L338.57 391.12L337.22 393.22L336 395.4L334.57 397.07L332.57 397.98L330 399.69M330 403.12L332.11 404.86L334.28 406.54L336.06 407.27L337.76 408.15L339.42 409.11L342.08 409.01L344.56 409.97L346.95 410.85L348.85 412.54L350.74 414.57L353.13 415.97M409.67 350L410.7 352.51L411.39 355.14L412.53 356.71L413.45 358.4L413.96 360.28L413.79 362.89L413.1 365.42L413.85 367.94L413.96 370.56L414.95 373.04L414.81 375.7M337.71 448.52L337.22 450.49L337.33 452.55L336.85 454.52L336.99 456.41L336.03 458.13L336 460M316.68 425L317.61 427.49L317.54 430.14L316.5 432.43L314.97 434.42L312.62 435.35L310.69 436.99L311.98 439.41L312.4 442.13L311.61 444.72L310.69 447.27L309.68 449.75L309.49 452.41L308.94 454.38L309.56 456.45L308.97 458.41L310 460.92L310.69 463.55L311.29 465.79L312.4 467.83L312.12 470.43L311.54 472.98L311.89 474.95L313.26 476.4L312.29 478.73L310.69 480.69L310.56 483.35L311.54 485.83L311.96 488.4L312.4 490.97L313.57 492.98L314.11 495.25L315.81 494.76L317.54 494.39L318.98 492.74L320.97 491.82L323.54 489.77L325.44 487.97L326.96 485.83M338.96 448.99L338.38 451.24L337.24 453.27L337.64 455.59L338.96 457.55L338 459.65L337.24 461.84L336.09 463.65L334.67 465.26L335.41 467.34L335.53 469.55L333.73 470.73L332.1 472.12L331.56 473.99L330.39 475.55L330.37 477.37L331.25 478.97L330.3 480.59L328.68 481.54L327.81 483.68L326.96 485.83L327.77 488.42L328.68 490.97L330.31 492.2L331.3 494.06L332.96 495.25L333.83 496.91L334.27 498.75L335.19 500.39L335.33 502.68L335.88 504.93L335.87 507.24L336.46 509.5L337.29 511.71L337.24 514.1M286.7 478.97L288.59 479.47L290.12 480.69L292.35 480.69L294.41 479.83L295.87 481.41L296.98 483.26L299.05 484.3L301.26 484.97L303.19 485.39L304.69 486.68L306.36 488.03L308.12 489.25L309.91 489.96L311.54 490.97M286.7 478.97L287.55 481.54L288.41 484.11L289.09 486.64L289.27 489.25L290.61 490.72L290.98 492.68L289.88 494.54L288.41 496.11L286.93 498.06L284.98 499.53L284.07 501.52L282.41 502.96L280.7 504.67M167.5 222.5L166.73 224.2L165.65 225.74L165 227.5L163.43 228.92L162.1 230.53L161.25 232.5L160.8 234.74L159.82 236.76L158.75 238.75L158.4 240.85L157.84 242.9L157.5 245L157.06 247.55L156.25 250L155.75 251.84L155.04 253.56L153.75 255L152.03 257.03L150 258.75L148.16 260.66L146.25 262.5L144.51 264.05L143.75 266.25"/>
<path fill="none" stroke="#0a0a0a" stroke-width="1.05" d="M80 251.61L82.86 250.18L84.61 249.61L86.44 249.46L89.3 248.03L91.01 247.25L92.88 247.32L95.74 248.03L97.89 249.46L100.04 248.75L101.47 248.03L102.01 245.73L101.66 243.3L102.59 241.06L102.9 238.73L103.02 236.7L102.93 234.64L103.77 232.72L103.48 230.63L104.33 228.71L104.61 226.55L104.52 224.33L104.9 222.19L105.76 220.13L106.03 217.97L106.87 215.9L106.37 213.61L107.19 211.54L107.23 209.1L108.11 206.79L108.34 204.38L107.91 202.24L106.48 200.09L106.66 198.19L105.76 196.51L103.61 194.36L101.47 192.93L99.32 191.5L98.6 188.64L98.7 186.85L98.6 185.06L98.47 182.92L98.6 180.77L100.75 179.34L102.66 179.56L104.33 178.62L106.38 177.71L108.62 177.91L110.41 178.35L112.2 177.91L112.63 175.76L111.48 173.61L108.62 172.9L106.81 173.02L105.04 172.61L102.18 172.18L101.53 170.44L101.75 168.6L101.28 166.45L101.75 164.31L102.9 162.88L105.03 162.5L107.19 162.59L109.11 162.94L111 162.1L112.92 162.45L114.83 162.5L116.74 162.53L118.64 162.31L120.54 162.1L122.45 162.27L124.36 162.16L125.8 161.45L125.08 159.73L127.23 159.3L129.37 160.73L131.52 159.3L133.67 157.87L135.81 156.01L137.53 155.44L138.68 157.87L139.39 160.73L140.82 163.6L141.82 166.46L142.36 168.25L141.82 170.04L143.69 170.75L145.83 171.47L147.59 172.1L148.69 173.61L150.32 174.23L151.56 175.47L154.42 176.48L157.28 176.05L160 174.33M160 174.25L161.54 175.52L163.38 176.34L165 177.5L165.41 175.55L166.25 173.75L168.16 173.23L170 172.5L171.21 170.96L172.5 169.5L174.26 168.28L176.25 167.5L178.17 167.61L180 167L181.44 165.66L182.26 163.8L183.75 162.5L185.07 161.32L186.25 160L188.13 159.4L190 158.75L192.07 158.3L193.75 157M193.75 157L192.24 155.68L190.27 155.05L188.75 153.75L188 151.54L186.25 150L185.78 147.5L186.25 145L185.33 143.38L184.87 141.52L183.75 140L182.53 138.53L182.07 136.67L181.25 135L178.97 133.53L177.5 131.25L176.43 129.02L175 127L177.5 126.25L179.16 128.12L181.25 129.5L183.74 129.84L186.25 130L187.98 131.07L190 131.25L191.83 130.65L193.75 130.5L195.51 131.71L197.5 132.5L199.39 132.37L201.25 132L202.57 130.82L203.75 129.5L205.61 129.07L207.5 128.75L210.14 128.27L212.5 127L215.2 126.51L217.5 125L219.99 124.34L222.5 123.75L225 122L226.97 121.18L228.75 120L230.45 118.86L232.5 118.75L233.93 117.68L235 116.25L233.75 113.75L236.25 112L238.75 112.18L241.25 112L241.6 113.81L243 115L242.35 117.46L242.5 120L243.97 121.73L245 123.75L246.92 124.24L248.75 125L250 126.25M193.75 157L196.18 158.07L198.75 158.75L200.95 159.51L202.5 161.25L203.38 162.9L204.53 164.4L205 166.25L205.88 168.24L206.37 170.31L206.25 172.5L206.55 175.08L207.5 177.5L208.6 179.44L209.13 181.57L209.5 183.75L210.21 185.8L210.22 188.04L211.25 190L211.39 192.58L210.5 195L209.68 197.52L208.75 200L210.59 201.3L212.5 202.5L214.04 204.71L216.25 206.25L217.91 207.83L220 208.75L221.05 207.02L221.25 205L221.61 202.43L222.5 200L224.31 198.42L226.25 197L228.09 196.45L230 196.25L230.91 197.84L232.5 198.75L233.75 201.25L235.94 200.47L237.5 198.75L238.39 196.63L240 195L240.24 193L240.93 191.14L241.56 189.27L242.5 187.5L243.75 185L245.83 184.98L247.92 185.11L250 185M248.58 127.12L249.5 130L248.77 132.61L247.5 135L247.22 136.94L245.92 138.38L245 140L244.74 142.12L244.09 144.15L243.75 146.25L243.44 148.4L244.02 150.44L244.5 152.5L245.48 154.18L246.37 155.91L247.5 157.5L248.58 159.3L250.44 160.5L251.25 162.5L252.77 164.73L255 166.25L256.28 167.77L257.7 169.11L259.5 170M250 184.5L252.38 184.87L254.75 184.37L257.12 184.37L259.5 184.5L259.5 170M259.5 170L262.5 168.75L264.1 167.09L266.25 166.25L268.16 166.04L270 165.5L271.54 163.58L273.75 162.5L275.46 161.37L277.5 161.25L279.26 160.28L281.25 160L283.07 159.33L285 159.5L287.52 159.55L290 160L292.44 159.2L295 159.5L296.75 158.52L298.75 158.75L298.96 156.15L300 153.75L301.72 152.66L303.75 152.5L305.65 152.58L307.5 153L309.22 151.93L311.25 152L313.22 152.08L315 151.25L316.41 152.61L318 153.75L320.32 153.7L322.5 154.5L325.06 154.7L327.5 155.5L329.96 154.81L332.5 154.5L334.98 153.96L337.5 153.75L339.57 154.2L341.25 155.5L343.18 155.68L345 155L347.21 154.26L348.75 152.5L349.96 150.6L351.25 148.75L352.07 147.07L352.46 145.19L353.75 143.75L354.14 141.86L355.24 140.33L356.25 138.75L357.09 136.92L358.76 135.64L359.5 133.75L360.12 131.48L360.97 129.33L362.5 127.5L364.19 126.22L365 124.25L368 125L368.97 126.89L370 128.75L370.85 130.75L370.78 132.93L371.25 135L372.63 136.87L372.88 139.18L373.75 141.25L373.81 143.31L374.57 145.14L375.39 146.95L376.25 148.75L377.36 150.72L378.07 152.86L378.75 155L380.66 155.92L381.88 157.77L383.75 158.75L385.6 160.65L387.5 162.5L387.79 165.08L388.75 167.5L388.54 169.62L388.25 171.73L387.5 173.75L386.51 175.5L386.25 177.5L386.3 179.57L387.5 181.25L389.13 182.86L391.25 183.75L392.91 185.32L395 186.25M318 153.75L317.86 155.88L318.2 157.95L318.75 160L320.81 160.97L322.5 162.5L324.36 163.77L326.25 165L328.22 166.1L330 167.5L332.02 168.28L333.68 169.53L335 171.25L337.07 172.93L338.75 175L339.85 176.53L340.2 178.44L341.25 180L341.33 182.64L342.5 185L343.8 186.84L345 188.75L345.35 190.66L346.13 192.35L347.5 193.75L348.98 196.02L351.25 197.5L352.04 199.96L352.5 202.5L354.54 203.19L356.25 204.5L358.06 203.79L360 203.75L360.94 201.67L362.5 200L363.44 197.92L365 196.25L366.38 194.46L367.5 192.5L369.73 190.98L371.25 188.75L373.36 187.85L375 186.25L376.86 184.36L378.75 182.5L380.15 181.12L381.25 179.5L383.75 178L386.25 178.75M259.5 184.5L259.57 186.58L260.88 188.39L260.62 190.54L261.25 192.5L261.63 194.39L262.6 195.99L263.75 197.5L265.41 199.59L267.5 201.25L269.39 202.48L271.25 203.75L272.83 205.4L273.75 207.5L275.43 209.05L277.5 210L279.44 210.43L281.25 211.25L282.92 212.81L285 213.75L286.55 215.49L288.75 216.25L290.68 217.01L292.5 218L294.57 217.71L296.71 218.22L298.75 217.5L296.72 218.52L295 220L293.75 222.5L269.75 292.75M395 186.25L396.77 188.02L398.95 189.1L401.25 190M448.75 310L448.29 311.85L447.16 313.37L446.25 315L445.61 317.5L445 320M546.27 386L546.5 387.5L546.35 389.79L545.75 392M504.95 317.27L504.5 317.5L501.9 318.24L499.5 319.5L498.14 321.01L496.13 321.44L494.5 322.5L492.66 323.57L490.75 324.5L488.08 324.32L485.75 323L483.85 322.96L482 322.5M440.11 331.93L441.86 332.98L443.75 333.75L445.58 334.02L447.49 333.71L449.25 334.5M443.75 320L444.05 321.94L445.1 323.49L446.25 325L445.92 327.15L447.24 329.11L447 331.25L448.36 332.71L449.25 334.5M449.25 334.5L448.15 336.4L446.25 337.5L444.13 339.13L442.5 341.25L441.39 343.09L439.83 344.58M439.05 345.91L438.44 348.16L437 350L437.59 352.48L438 355L441.25 355.5L439.6 356.81L438.75 358.75L439.72 360.28L441.25 361.25L440.24 363.06L438.75 364.5L440.64 365.41L442 367L440.33 368.45L439.5 370.5L440.3 372.17L441.25 373.75M449.25 334.5L450.12 336.46L451.85 337.91L452.5 340L454.72 341.07L456.25 343L458.83 342.35L461.25 341.25L463.73 340.54L466.25 340L468.62 338.86L471.25 338.75L472.93 337.41L473.88 335.52L475 333.75L475.78 331.74L475.33 329.48L476.25 327.5L477.87 325.87L478.75 323.75L481.75 323M395 373.75L396.58 372.05L398.75 371.25L400.38 372.87L402.5 373.75L404.41 374.95L406.25 376.25L408.19 376.69L410 377.5L412.52 376.94L415 376.25L416.43 377.56L418.46 377.66L420 378.75L422.39 377.68L425 377.5L427.51 376.53L430 375.5L432.44 374.68L435 374.5L437.03 373.77L439.12 373.58L441.25 373.75M441.25 373.75L442.4 375.45L442.5 377.5L442.23 379.49L441.25 381.25L442.35 383.67L443 386.25L443.49 388.3L443.18 390.46L443.75 392.5L444.26 394.55L444.25 396.67L444.5 398.75L444.9 401.25L444.5 403.75M444.5 403.75L442.81 403.3L441.25 402.5L439.58 401.67L438.75 400L437.72 401.47L436.25 402.5L435.5 404.71L433.75 406.25L432.3 407.3L431.25 408.75L431.19 411.25L431.25 413.75L430.99 415.75L430 417.5L428.13 418.15L426.25 418.75L425.71 420.62L426.25 422.5L427.35 424.88L427.5 427.5L426.86 429.96L427 432.5L425.44 434.43L423.75 436.25L423.13 438.75L422.5 441.25L423.4 443.36L425 445L424.5 446.92L423.75 448.75L422.08 449.58L420.31 450.21L418.75 451.25L416.6 450.91L414.61 451.94L412.5 452L409.97 451.76L407.48 452.08L405 452.5L402.49 452.5L400.01 452.95L397.5 453L395 453.67M444.5 403.75L446.26 402.74L447.94 401.58L450 401.25L451.87 399.76L453.92 398.61L456.25 398L458.46 397.27L460.29 395.73L462.5 395L464.43 393.78L466.48 392.85L468.75 392.5L470.75 393.33L472.83 393.78L475 393.75L476.07 395.74L477.5 397.5L480.1 398.25L482.5 399.5L484.61 399.35L486.69 399.58L488.75 400L490.85 400.79L493.07 401.27L495 402.5L497.11 403.27L499.28 403.89L501.25 405L502.66 406.35L504.32 407.19L506.25 407.5L507.88 408.8L509.77 409.75L511.25 411.25L512.8 412.98L515 413.75L517.52 413.77L520.02 414.07L522.5 414.5L524.63 414.05L526.68 414.69L528.75 415L530.03 416.86L531.25 418.75L530.62 421.25L530 423.75L528.39 425.89L526.25 427.5L525 429.37L523.75 431.25L524.97 433.6L525 436.25L524.65 438.22L523.75 440L525.98 441.52L527.5 443.75L529.46 445.54L531.25 447.5L533.48 448.56L535 450.5M527.5 444.5L525.2 445.93L522.5 446.25L520.94 447.3L519.31 448.21L517.5 448.75L516.16 450.57L515 452.5L515.59 455.01L516.25 457.5L515.08 459.9L514.5 462.5L515.19 465.06L516.25 467.5L515.38 470M545.5 392L545 395L544.63 396.99L544.33 398.98L544.84 401.01L544.82 403.01L544.5 405L543.61 406.91L544.33 409.06L543.33 410.96L543.12 412.97L543 415L543.21 417.1L541.89 418.93L541.47 420.92L541.44 422.97L541.25 425L540.61 426.95L540.17 428.93L540.64 431.08L539.82 432.99L539.5 435L538.99 437.19L538.1 439.28L537.63 441.48L537.5 443.75L536.49 445.5L536.15 447.47L535.16 449.22L535 451.25L534.65 453.42L534.51 455.61L534.96 457.83L534.5 460L534.56 462.02L533.94 463.87L533.17 465.67L532.5 467.5L531.67 470M413 410.5L415.28 409.91L417.62 410.72L419.9 410.27L422.21 410.26L424.5 410L424.47 412.01L424.53 414.01L424.89 416L425 418L422.92 418.62L420.83 417.63L418.75 417.69L416.67 418L414.58 417.96L412.5 418L412.86 415.51L412.3 412.96L413 410.5M300.03 322.72L360.19 327.05M378.6 346.03L378.63 348L378.57 349.96L378.06 351.86L377.5 353.75L377.09 355.92L377.61 358.15L376.83 360.3L377 362.5L377.02 364.74L378.17 366.66L378.75 368.75L380.54 367.38L382.5 366.25L383.15 368.12L383.75 370M383.75 370L385.46 372.04L387.5 373.75L389.02 374.88L390.77 375.55L392.5 376.25L395 377.12M383.75 368.75L382.76 370.34L382.55 372.32L381.25 373.75L380.82 376L379.87 378.03L378.75 380L377.84 381.78L377.73 383.83L376.8 385.6L376.25 387.5L376.2 389.57L375.52 391.42L374.65 393.22L373.75 395L372.72 397L371.86 399.08L371.25 401.25L369.22 402.97L367.5 405L365.81 407.06L363.75 408.75L362.07 410.4L360.45 412.11L358.75 413.75L357.11 415.45L355.75 417.42L353.75 418.75L352.11 420.12L351.55 422.31L350 423.75L348.64 425.15L347.85 426.84L347.5 428.75L346.73 430.78L345.04 432.11L343.75 433.75L342.78 435.73L342.02 437.76L342 440L341.81 442.09L341.78 444.2L341.25 446.25M265.89 425.18L266.25 426.25L265.97 428.24L265 430L265.79 432.18L267.5 433.75L269.63 435.37L271.25 437.5L273.07 438.83L275 440L276.25 442.5M276.25 442.5L278.18 442.31L280 443L281.68 442.03L283.62 441.48L285 440L286.62 438.37L288.75 437.5L291.4 436.87L293.75 435.5L295.84 435.18L297.99 435.31L300 434.5L302.02 435.33L304.26 435.35L306.25 436.25L307.7 437.52L309.59 437.9L311.25 438.75L313.18 439.06L314.86 439.87L316.25 441.25L318.75 440.62L321.25 440L323.76 440.57L326.25 441.25L328.05 440.39L330 440L331.56 437.81L333.75 436.25L334.19 438.31L334.48 440.39L334.5 442.5L334.99 444.55L336.25 446.25L338.84 446.01L341.25 447M276.25 442.5L276.81 444.31L277.54 446.02L278.75 447.5L278.58 450.11L277.5 452.5L276.81 454.96L276.9 457.48L277 460M341.25 447L342.07 449.38L343.75 451.25L345.77 452.28L347.5 453.75L349.24 454.44L350.89 455.3L352.5 456.25L353.89 457.64L355.78 458.02L357.5 458.75L359.77 459.89M380 460L381.58 458.85L383.29 457.92L385 457L387.42 455.98L390 455.5L392.31 454.1L395 453.75M140 327.5L142.38 326.38L145 326.25L146.52 325.13L148.2 324.32L150 323.75L152.52 323.21L155 322.5L157.45 323.23L160 323L162.53 323.06L165 322.5L166.82 321.16L168.75 320L170.57 318.66L172.5 317.5L175 317.28L177.5 317L179.96 316.1L182.5 315.5L183.6 313.95L184.59 312.31L186.25 311.25L186.84 309.46L188.44 308.18L188.75 306.25L189.63 304.34L191.25 303L193.33 302.84L195.43 302.83L197.5 302.5L199.96 303.2L202.5 303L204.61 304.36L206.25 306.25L208.33 307.92L210 310L212.05 310.99L213.75 312.5L215.64 312.63L217.5 313L219.4 313.69L221.25 314.5L266.25 314.5L267.12 312.52L267.3 310.44L267.64 308.38L267.5 306.25L267.33 303.65L267.76 301.15L268.75 298.75L269.42 296.89L270.06 295.02L270 293M140 336.25L141.85 334.35L143.75 332.5L145.47 331.59L146.76 329.97L148.75 329.5L150.81 329.03L153 329.36L155 328.5L157.53 328.74L160.03 328.61L162.5 328L165 327.5L164.84 330.1L166.14 332.45L166.25 335L166.48 337.14L166.18 339.22L165.5 341.25L165.97 343.76L166.28 346.29L167 348.75L167.06 350.98L167.9 352.99L168.75 355L169.42 356.75L170.12 358.48L171.25 360L173.15 361.21L175 362.5L176.63 363.55L178.63 364.01L180 365.5L182 366.34L184.24 366.18L186.25 367L188.19 368.08L190.37 368.34L192.5 368.75L194.67 369.36L196.84 369.99L198.75 371.25L200.55 371.81L202.01 373.07L203.75 373.75L205.31 374.8L207.3 374.99L208.75 376.25L210.71 376.89L212.07 378.44L213.75 379.5L215.8 380.43L217.97 381.04L220 382L222.04 381.41L224.18 381.62L226.25 381.25L228.84 381.02L231.25 382L233.28 383.31L235 385M221.25 314.5L220.99 316.51L220.06 318.41L220.14 320.47L220 322.5L219.95 325.08L220.86 327.49L221.25 330L221.33 332.53L221.06 335.03L220.5 337.5L220.18 340.06L220.75 342.53L221.25 345L223.45 344.89L225.66 344.66L227.81 345.37L230 345.5L231.99 345.77L234 345.5L236.01 345.35L237.99 345.91L240 345.75L241.65 347.1L243.75 347.5L244.46 349.95L244.5 352.5L244.04 355.21L242.5 357.5L243.51 359.08L244.25 360.79L245 362.5L245.41 365.05L246.25 367.5L245.75 369.33L244.25 370.67L243.75 372.5L241.67 374.17L240 376.25L238.74 378.12L237.5 380L236.99 381.83L235.31 383.07L235 385M235 385L236.04 386.56L236.31 388.51L237.5 390L238.25 392.45L238.67 394.94L238.75 397.5L238.68 399.62L239.5 401.64L239.5 403.75L237.67 403.85L236.25 405L237.09 406.66L238.26 408.16L238.75 410L239.89 411.51L240.51 413.29L241.25 415L241.05 417.08L240.69 419.17L241.25 421.25L265 421.75L266.03 423.22L266.25 425M270 293L270.95 294.86L271.99 296.69L272.5 298.75L272.91 300.89L274.77 302.3L275.81 304.13L276.25 306.25L277.59 308.13L278.04 310.37L278.75 312.5L280.07 314.52L281.75 316.17L283.75 317.5L285.14 318.86L286.51 320.25L288.12 321.31L290 322L292.02 321.99L294.04 322.01L295.95 323.14L297.97 323.1L300 323M80 251.5L77.5 251.43L75 251.5L73.23 252.75L70.96 253.11L69.14 254.27L67.5 255.75L65.29 256.5L63.91 258.49L62.16 259.93L60 260.75L59.63 263.02L58.34 264.92L57.5 267L56.43 268.99L55.89 271.19L55 273.25L54.91 275.4L54.27 277.44L53.75 279.5L51.98 281.06L50.26 282.68L48.75 284.5L47.64 286.03L46.7 287.64L46.25 289.5L45.43 291.31L45 293.25L42.5 294L43.75 297L45.39 298.61L46.25 300.75L46.47 302.76L47.5 304.5L48.56 306.05L49.09 307.87L50 309.5L51.39 311.5L52.25 313.82L53.75 315.75L54.92 317.25L55.7 318.94L56.25 320.75L53.75 322.5L55.83 322.18L57.92 322.07L60 322.5L61.75 323.46L63.72 323.59L65.68 323.79L67.5 324.5L67.8 326.41L67.22 328.39L68 330.25L82.5 330.25L84.38 328.63L86.25 327L87.77 325.87L89.75 325.68L91.25 324.5L90.75 344.5L92.97 345.1L95.14 345.93L97.5 345.75L98.95 344.48L100.82 344.06L102.5 343.25L104.45 343.89L106.45 344.17L108.44 344.51L110.57 343.68L112.5 344.5L114.68 345.1L116.84 345.73L118.75 347L120.64 345.42L123.22 345L125 343.25L126.73 342.08L128.65 341.18L130 339.5L131.6 338.52L133.54 338.24L135 337L136.6 335.96L138.12 334.78L139.91 334.05M46.62 291L54.75 294L62.88 297.25L71 299.75L79.12 301.88L87.25 303.75L94.75 305L98.5 306.88L102.25 309.38L106 311.25L111 313.5L116 315.62L130 322L140 326.5M533.33 470L532.5 472.5L531.57 474.77L529.69 476.48L528.75 478.75L527.45 480.8L526.71 483.2L525 485L523.68 487.02L521.76 488.43L520 490L518.7 491.84L517.5 493.75L516.91 495.8L517.16 498.02L516.25 500L516.02 502.01L515 503.75L513.19 504.81L511.73 506.34L510 507.5L508.49 508.96L506.81 510.19L505 511.25L503.28 512.81L502.5 515L500.06 515.85L497.5 516.25L495.01 515.79L492.5 515.5L490.03 516.05L487.5 516.25L485 514.5L483.82 515.82L482.5 517L479.91 517.06L477.5 518L475.06 517.14L472.5 517.5L470.68 518.29L468.75 518.75L467.08 520.31L465 521.25L462.97 522.26L461.25 523.75L459.58 525.31L457.5 526.25L457.46 528.32L456.25 530L453.75 530.5L452 529.52L450 529.5L447.53 530.46L445 531.25L443.16 531.73L441.72 533.02L440 533.75L438.12 534.16L436.69 535.46L435 536.25L433.56 537.68L431.99 538.92L430 539.5L428.3 540.61L426.57 541.69L425 543L423.06 543.66L421.94 545.59L420 546.25L418.03 547.76L416.25 549.5L415.3 550.89L414.11 552.07M511.25 470L510.42 472.33L508.76 474.17L507.5 476.25L506.47 478.22L505.62 480.24L505.5 482.5L505.62 485.04L505 487.5L506.42 489.56L507 492L508.95 492.75L510.94 492.99L513 492.58L515.06 492.25L517 493M505 487.5L503.69 488.93L503.46 490.9L502.5 492.5L501.2 494.4L500.69 496.61L500 498.75L497.9 499.67L496.25 501.25L494.28 502.24L491.99 502.08L490 503L488.02 503.99L485.87 504.45L483.75 505L481.58 505L479.5 505.43L477.5 506.25L475.13 507.5L472.5 508L470.1 509.08L467.5 509.5L465.04 510.49L462.5 511.25L460.41 511.64L458.36 512.22L456.25 512.5L454.2 513.13L452.11 513.15L450 513L448.75 515.5L446.21 515.6L443.75 516.25L441.97 515.39L440 515.5M440 515.5L438.83 513.54L438.75 511.25L437.99 509.55L437.37 507.77L436.25 506.25L436.11 504.05L437.49 502.17L437.5 500L436.43 498.27L436.25 496.25L434.44 494.9L432.5 493.75L431.72 492.06L430.97 490.35L430 488.75L429.14 486.31L428.75 483.75L428.03 481.27L427.5 478.75L426.34 476.82L425 475L422.51 475.34L420 475.5L417.47 475.68L415 476.25L412.51 476.69L410 477L407.51 477.57L405 478M450 513L451.72 514.26L452.5 516.25L454.1 517.22L455.84 517.91L457.5 518.75L459.56 519.73L461.25 521.25M404.75 542.48L406.25 543L407.24 544.82L408.75 546.25L409.75 547.75L411.25 548.75L412.54 549.96L413.75 551.25M275.29 459.9L274.89 461.97L273.75 463.75L273.2 465.84L273.05 468.05L272 470L271.77 472.22L270.75 474.19L270 476.25L270.91 478.23L270.9 480.4L271.25 482.5L271.65 485L272.65 487.41L272.5 490L272.16 492.49L272.68 495.03L272 497.5L272.05 500.04L272.33 502.55L273 505L275.33 505.18L277.71 504.78L280 505.5L282.5 505.75L285.02 505.85L287.5 506.25L290.06 506.56L292.46 505.3L295 505.5L296.76 506.43L298.59 507.09L300.55 507.28L302.5 507.5L303.43 509.59L305 511.25L306.03 513.22L305.76 515.6L307 517.5L307.59 519.58L307.62 521.82L308.75 523.75L308.87 526.38L310 528.75L312.11 529.65L313.75 531.25L315.79 531.86L317.85 532.28L320 532L321.93 531.8L323.7 532.48L325.5 533M325.5 533L326.86 531.33L327.3 529.12L328.75 527.5L330.42 525.67L331.01 523.19L332.5 521.25L334.06 519.82L334.65 517.65L336.25 516.25L337.92 515L339.9 514.17L341.25 512.5L342.7 510.96L344.41 509.76L346.25 508.75L347.92 507.09L349.42 505.26L351.25 503.75L352.04 501.74L353.43 500.18L355 498.75L355.89 496.45L357.96 494.86L358.75 492.5L359.79 490.5L360.87 488.52L361.25 486.25L362.15 483.96L364.05 482.27L365 480L365.87 478.05L367.53 476.69L368.75 475L370.74 473.24L372.5 471.25L372.96 469.32L373.75 467.5M373.75 466.25L371.9 464.6L369.62 463.69L367.5 462.5L365.45 461.57L363.51 460.39L361.25 460M373.75 466.25L374.61 464.29L376.74 463.28L377.5 461.25L379.17 460M372.5 471.25L374.96 472.03L377.5 472.5L380.02 472.79L382.44 473.7L385 473.75L387.55 473.88L389.9 475.18L392.5 475L394.12 475.92L395.91 476.51L397.5 477.5L400.08 477.19L402.5 476.25L405 475.83M336.25 515.5L338.31 514.6L340.27 513.46L342.5 513L345.02 513.13L347.46 512.11L350 512.5L352.5 512.9L355 512.19L357.5 512.5L359.97 513.09L362.4 513.93L365 513.75L367.48 514.27L369.97 514.78L372.5 515L375.02 514.93L377.54 514.72L380 515.5L382.22 515.44L384.27 516.08L386.25 517L388.04 518.61L390 520L390.91 521.63L391.65 523.34L392.5 525L392.89 526.89L394.57 528.13L395 530L395.75 532.02L395.65 534.2L396.25 536.25L397.45 538.61L397.5 541.25L400.15 541.28L402.5 542.5L405 543.12M325.5 533L325.34 535.36L325.32 537.74L324.5 540L324.43 542.52L324.34 545.03L323.75 547.5L323.23 549.56L322.81 551.65L322.5 553.75L324.53 554.29L326.25 555.5L328.07 556.39L330 557L331.03 559.11L332 561.25L333.29 562.93L333.75 565M333.75 565L335.79 565.71L337.94 565.02L340 565.5M333.75 565L334.5 567.55L334.38 570.21M412.99 554.95L413.68 553.19L415.17 552.04M423.75 250L421.77 251.43L420 253.12L417.83 254.33L416.25 256.25L414.15 257.55L412.5 259.38L410.7 260.91L408.75 262.25L407.35 263.56L405.62 264.38M405.62 264.38L407.89 264.09L410 265L411.79 266.1L413.75 266.88L413.12 270L412.5 273.12L411.8 274.66L411.25 276.25L410.8 277.88L410 279.38L407.5 280.62L406.41 282.09L405.62 283.75L404.09 284.44L402.5 285L400.66 285.48L399.38 286.88L398.48 288.33L398.12 290L397.5 293.12L396.25 295.62L396.88 298.12L398.75 300L399.38 303.12L399.05 305.1L398.12 306.88L396.76 308.18L396.25 310L395.8 311.85L394.38 313.12L391.88 315L390.6 316.54L389.38 318.12L388.23 320.06L386.88 321.88L386.55 323.56L385.62 325L385.51 326.76L384.38 328.12L383.13 329.85L382.5 331.88L382.12 334.3L380.62 336.25L379.94 338.11L379.38 340L378.55 341.92L379.23 344.06L378.5 346M405.62 264.38L408.12 262.5L411.25 261.88L413.19 261.82L415 262.5L416.83 263.25L418.75 263.75L420.31 264.69L421.88 265.62L422.66 267.28L423.75 268.75L423.68 270.99L424.38 273.12L424.59 275.34L424 277.5L423.79 279.74L423.12 281.88L422.74 284.13L421.88 286.25L421.78 288.3L420.62 290L420 291.88L421.88 293.12L423.75 295.62L425.62 298.12L427.5 300.62L429.38 302.5L431.88 303.12L434.38 301.25L436.88 301.25L438.12 303.12L437.5 306.25L435 308.12L432.5 310L431.42 311.72L431.25 313.75L430.29 315.51L430 317.5L431.88 320L433.75 322.5L435.62 325L436 326.66L436.88 328.12L438.34 329.37L438.75 331.25L440 333.12M360 327.5L383.75 329M340 565.55L341.81 566.33L343.81 565.53L345.62 566.25L347.57 566.27L349.47 566.53L351.25 567.38L353.27 567.29L354.9 568.73L356.88 568.78L358.66 569.63L360.59 569.88L362.5 570.19L364.56 570.87L366.72 570.75L368.55 570.05L370.23 569.06L371.64 566.95L372.9 565.81L374.45 565.12L376.03 563.96L377.97 563.72L380.78 562.03L382.5 561.39L384.3 561.75L385.97 562.55L387.81 562.73L389.71 563.1L391.33 564.14L394.14 563.44L395.82 562.53L397.66 562.03L399.4 561.59L401.17 561.33L402.86 560.53L404.69 560.91L407.5 560.34L408.62 561.33M411.72 555L410.92 556.92L409.61 558.52L408.62 561.33L408.68 563.12L408.2 564.84L407.45 566.53L407.22 568.36L407.52 570.11L407.5 571.88L407.93 573.96L407.92 576.09L407.86 578.01L408.91 579.61L409.26 581.37L409.61 583.12L408.69 585.13L408.62 587.34L407.78 589.05L407.22 590.86L407.05 592.84L405.81 594.38L404.99 595.84L403.98 597.19L402.63 598.65L401.17 600L399.56 600.78L398.36 602.11L397.07 603.32L395.55 604.22L393.99 605.07L392.73 606.33L391.29 607.7L389.92 609.14L389.17 611.08L387.81 612.66L386.69 614.25L386.41 616.17L386.18 618.12L385 619.69L383.93 621.3L383.59 623.2L382.89 625.17L381.48 626.72L380.96 628.79L379.38 630.23L378.26 632.22L376.56 633.75L374.93 634.93L373.75 636.56L371.64 638.67L370.23 639.38L368.1 640.32L366.72 642.19L364.95 644.11L362.5 645L360.4 646.27L358.28 647.53L356.59 648.09L355.69 649.72L354.77 651.33L353.36 654.14L352.52 655.8L352.38 657.66L352.29 659.54L351.45 661.22L350.97 663M340 577.5L342.09 577.09L344.22 577.22L346.41 577.37L348.44 578.2L350.51 578.8L352.66 578.91L354.77 579.47L356.88 580.03L359.14 580.28L361.09 581.44L362.8 582.09L364.61 582.42L366.69 583.42L368.12 585.23L369.63 587.24L371.64 588.75L372.86 590.46L374.45 591.84L375.62 593.37L377.27 594.38L378.97 595.23L380.78 595.78L382.9 595.74L385 596.06L386.77 596.15L388.52 596.48L390.62 597.89L390.34 600.7L389.54 602.18L388.52 603.52L387.81 606.33L386.41 608.44L388.52 608.16L389.92 609.14M342.81 656.25L344.56 655.19L345.62 653.44L346.67 651.67L348.44 650.62L349.84 653.44L348.39 654.71L347.73 656.53L345.62 659.06L343.7 660.32L341.41 660.47L340 659.77M505 227.34L507.15 228L509.28 228.71L511.42 228.99L513.57 229.05L516.09 228.32L518.71 228.36L521.24 227.73L523.85 227.85L526.43 227.54L528.99 228.02L531.05 229.02L533.27 229.56L535.5 230.7L537.55 232.13L539.65 233.74L541.84 235.22L544.05 236.58L546.12 238.13L548.25 239.6L550.4 241.04L552.82 242.42L554.69 244.47L556.8 245.79L558.12 247.9L559.39 250.05L561.54 251.32L563.35 252.57L564.97 254.07L566.94 254.68L568.4 256.12L570.97 257.49L573.05 258.5L575.25 259.21L577.75 260.07L580.39 260.23L582.99 259.98L585.53 260.58L588.1 260.7L590.67 260.58L592.44 260.91L594.1 261.6L595.37 262.73L596.67 263.83L598.06 265.28L598.38 267.26L599.77 269.19L600.09 271.54L600.1 273.85L601.29 275.83L601.54 278.52L602.66 280.97L603.36 283.54L604.03 286.11L604.43 288.18L604.99 290.22M511.51 229.56L511.55 231.74L511 233.85L511.09 236.06L511.85 238.13L512.37 240.25L512.71 242.41L512.42 244.62L513.22 246.7L513.06 248.87L513.57 250.98L513.61 253.2L514.42 255.26L514.75 257.62L516.14 259.55L517.03 261.61L517.34 263.83L518.16 265.91L517.85 268.12L518.64 270.19L518.71 272.4L519.52 274.46L519.56 276.68L520.9 278.63L521.28 280.97L522.96 281.86L523.85 283.54L525.22 285.59L524.64 287.54L524.19 289.53L523.15 291.55L522.99 293.82L522.61 295.54L522.13 297.24L521.41 298.9L521.79 300.67L520.79 302.24L520.76 304.1L520.2 306.09L518.71 307.52L517.34 308.72L516.14 310.09L514.94 311.3L513.57 312.32L512.07 313.6L510.14 314.03L508.13 314.57L506.71 316.09L505 317.46M522.99 293.82L525.11 293.34L527.27 293.47L529.42 293.29L531.56 292.96L533.67 293.56L535.84 293.82L537.3 295.18L539.27 295.53L540 296.26M570.97 257.49L569.19 257.89L567.54 258.69L566.35 260.07L564.97 261.26L563.74 263.01L562.4 264.69L561.48 267.05L559.83 268.97L558.08 270.34L557.26 272.4L555.54 273.25L554.69 274.97L553.65 276.5L552.12 277.54L552.24 279.39L551.26 280.97L551.99 283.05L552.12 285.25L552.04 287.41L551.6 289.53L551.49 290.1M552.12 279.25L553.76 280L555.55 279.77L557.45 279.55L558.97 278.4L560.87 277.91L562.4 276.68L563.91 275.47L565.83 275.31L567.61 275.32L569.25 274.63L570.97 275.83L570.29 277.48L570.11 279.25L568.4 281.82L569.77 283.54L572.68 284.91L574.42 284.83L576.11 284.39L578.68 285.59L579.53 286.96L580.54 285.4L580.39 283.54L580.29 281.69L581.25 280.11L583.82 279.25L585.6 279.07L587.24 279.77L589.79 280.26L592.38 280.11L594.9 280.91L597.52 280.62L599.9 281.01L602.32 280.97M513.57 312.32L514.8 313.63L515.62 315.23L516.38 317L517.34 318.66L518.18 320.55L519.56 322.09L522.13 323.29L524.7 321.57L525.11 319.48L526.42 317.8L528.99 316.09L530.59 314.87L532.41 314.03L534.01 313.07L535.84 312.66L537.38 311.54L539.27 311.29L539.78 311.5M605.62 290L605.88 291.92L605.25 293.75L605.61 295.71L604.75 297.5L603.97 299.29L604 301.25L603.53 303.12L603.12 305L603.06 306.96L602.25 308.75L601.83 310.65L601.25 312.5L600.62 315L599.38 317.5L598 318.8L597.5 320.62L596.52 322.4L595 323.75L593.69 324.94L592.5 326.25L591.57 327.82L590 328.75L589.03 330.28L587.5 331.25L586 332.4L585 334L583.55 335.27L582.5 336.88L581.88 338.12L579.38 339.38L576.88 341.25L575 343.75L573.12 346.25L571.25 348.75L569.75 351.25L568.12 353.75L567.85 355.45L566.88 356.88L566.73 358.64L565.62 360L565.14 362.1L563.75 363.75L562.7 365.25L561.88 366.88L560 369.38L557.5 371.25L555 372.75L551.88 373.75L550.62 376.25L548.75 377.5L546.25 379.38L545.62 381.88L546.25 383.75L545.62 386M540 295L541.25 296.25L542.5 297.5L545 299.38L547.5 298.12L550 298.75L553.12 299L556.25 299.75L558.75 298.75L560.17 297.57L561.88 296.88L563.25 295.63L565 295L566.63 294.18L568.12 293.12L570.62 292.5L572.75 293.75L572.25 296.25L571 298.12L569.75 300.62L570.62 302.5L571.88 304.38L573.75 306.25L576.25 305.62L578.75 303.75L581.25 302.25L582.91 301.86L584.38 301L586.08 300.73L587.5 299.75L589.1 299.22L590.62 298.5L592.02 297.36L593.75 296.88L596.25 295.25L598.75 294.75L601.25 295L604.38 296M549.38 290L551.25 291.88L550.62 294.38L549.38 296.25L547.5 298.12M540 310L541.84 310.48L543.12 311.88L544.54 313.06L546.25 313.75L547.86 314.27L549.38 315L550.8 316.18L552.5 316.88L555 318.12L556.5 320.88L558.75 319.38L561.25 317.5L563.12 316.25L565.62 316.88L568.12 318.75L569.97 319.21L571.25 320.62L572.67 321.61L574.38 321.88L577.5 321.88L580 321.25L582.5 320L585 318.12L587.5 316.25L588.98 315.44L590.62 315L593.75 314.38L596.88 314L600 314.75L601 315M556.5 320.88L558.02 322.36L560 323.12L561.28 324.72L563.12 325.62L564.69 326.55L566.25 327.5L568.12 327.92L569.38 329.38L570.62 331.03L572.5 331.88L574.07 332.79L575.62 333.75L576.92 335.25L578.75 336L580.48 336.82L581.88 338.12M556.5 320.88L557.93 322.07L558.75 323.75L559.38 326.88L559.62 328.59L560.62 330L561.4 331.5L561.88 333.12L562.5 336.25L561.25 338.75L559.38 340.62L556.88 341.88L556.25 343.75L557.5 346.25L558.75 348.75L560.62 351.25L563.12 352.5L565.62 353.12L568.12 353.75M400 190L402.24 191.17L404.67 191.87L407.22 192.55L409.35 194.11L411.54 195.3L414.02 195.61L416.82 196.54M466.92 215.23L467.32 217.19L468.22 218.97L469.4 220.35L469.53 222.15L471.96 223.64L474.77 223.27L477.57 221.78L478.71 220.46L480.37 219.91L482.24 220.37L484.11 220.84L486.45 221.78L488.79 222.71L491.23 223.39L493.46 224.58L495.92 224.78L498.13 225.89L500.5 226.52L502.8 227.38L505.05 228.13M442.62 203.46L442.79 206.12L442.06 208.69L441.51 210.53L440.75 212.33L440.75 214.3L440.54 216.31L439.42 218.01L438.88 219.91L438.08 221.7L438.28 223.75L437.38 225.51L436.07 227.7L435.51 230.19L434.09 231.81L433.77 233.99L432.71 235.79L431.39 238.18L429.91 240.47L428.14 242.59L427.1 245.14L425.83 246.68L424.71 248.33L423.36 249.81L422.99 250.18M504.67 228.32L502.83 229.86L501.87 232.06L499.76 233.68L498.13 235.79L496.39 237.53L494.39 238.97L493.26 241.3L491.59 243.27L491.16 245.2L490.42 247.04L489.72 248.88L489 250.71L489.1 252.6L489.35 254.49L488.65 256.31L488.59 258.18L488.79 260.09L488.05 261.89L488.71 263.92L487.85 265.7L487.52 267.57L486.67 269.35L486.92 271.31L486.57 273.23L487.6 275.02L487.48 276.92L488.23 279.23L488.79 281.59L489.35 283.46L486.7 283.76L484.11 284.39L482.26 284.74L480.37 284.73L478.5 284.95L476.25 285.85L473.83 285.7L471.53 286.99L469.16 288.13L466.82 289.52L464.49 290.93L462.46 292.84L459.81 293.74L458.21 295.5L456.07 296.54L454.26 297.53L453.27 299.35L452.03 301.06L451.4 303.08L450.23 304.77L450.09 306.82L449.37 308.36L448.97 310M334.11 570L334.59 571.68L334.63 573.43L333.95 575.52L334.11 577.71L336.72 577.87L339.25 577.2L339.76 577.3M334.11 577.71L331.86 577.58L329.83 578.57L327.8 579.6L325.55 579.94L323.44 581.05L321.26 581.99L319.24 582.87L317.83 584.56L316.48 586.33L314.41 587.13L313.07 589.09L310.98 590.22L309.21 591.61L307.55 593.13L306.27 594.25L304.98 595.36L303.68 596.55L303.27 598.27L301.75 599.32L300.7 600.84L299.38 602.35L298.13 603.93L296.24 604.95L295.22 606.84L293.66 608.28L292.13 609.75L290.83 611.11L289.56 612.49L287.96 613.51L286.65 614.89L285.37 616.11L283.91 617.12L281.51 619.35L279.28 621.06L278.43 621.74L280.14 621.56L281.85 621.74L284.42 620.55L286.11 621.09L287.85 621.4L289.65 622.09L291.28 623.12L292.17 624.8L293.85 625.69L294.98 627.13L296.42 628.26L298.11 629.31L299.84 630.31L301.56 633.05L304.13 632.02L306.7 633.05L309.27 634.77L311.84 636.82L313.77 637.24L315.26 638.54L317.83 640.59L319.47 641.58L320.92 642.82L322.46 644.01L323.83 645.39L326.4 647.45L327.9 648.62L329.49 649.67L330.89 650.86L332.4 651.9L333.36 653.44L334.97 654.3L335.88 655.85L337.54 656.53L339.99 657.14M340.48 663.01L340.11 663.38L338.4 665.95L337.99 667.67L337.54 669.38L338.74 671.95L340.24 671.03L341.82 670.23L343.21 669.05L344.39 667.66L346.11 666.81L346.96 665.09L349.16 662.89"/>
<path fill="#fff" stroke="#0a0a0a" stroke-width="0.9" d="M368.83 619.69L369.81 622.22L371.64 623.91L373.75 624.19L375.86 623.2L377.97 622.5L379.09 623.91L378.67 626.02L377.69 628.83L375.86 631.64L373.75 634.45L371.64 637.27L368.83 639.38L366.02 641.48L363.2 642.89L360.39 645L358.28 646.41L356.59 647.81L355.47 645.7L356.17 642.89L358 640.78L359.69 638.67L361.8 637.27L363.91 633.75L366.02 630.94L367.42 628.12L369.53 625.31L368.83 622.5Z"/>
<path fill="none" stroke="#000" stroke-width="2.2" d="M462 521L463.01 519.5L464 518L465.84 517.62L467.5 518.5L468.8 517.29L470.5 516.75L472.24 517.29L474 517.75L475.91 518.12L477.5 517M409.19 580.59L409.87 581.77L410.03 583.12L409.23 584.81L409.61 586.64M368.83 619.69L369.72 620.8L369.81 622.22L370.18 623.65L371.64 623.91M377.69 622.22L378.95 623.91L378.53 625.73M385.84 608.16L387.53 607.31L389.22 608.16M355.19 645L356.31 647.11L358 646.69M416.82 196.73L418.13 197.51L419.51 197.88L420.91 198.11L422.43 197.66L423.97 197.07L425.19 198.38L426.71 197.95L428.04 198.6L429.37 199.24L430.93 198.86L432.22 199.66L433.64 199.91L434.8 201.1L436.38 201.05L437.99 200.89L439.25 201.78L440.8 202.43L442.41 202.91L443.93 203.64L444.81 204.99L446.59 204.54L447.66 205.51L449.06 205.82L450.03 206.99L451.4 207.38L453.5 207.39L455.14 208.69L456.63 208L457.94 207.01L459.4 207.73L460.75 206.82L462.14 207.87L463.55 208.88L464.54 209.87L464.85 211.22L465.42 212.43L466.12 213.86L466.92 215.23M440.19 203.08L441.6 204.07L443.45 203.96L444.86 204.95L446.31 205.55L447.25 207.1L448.97 207.2L450.41 208.57L452.34 209.07L453.27 210.26L454.77 210.19M458.32 208.32L459.67 208.87L460.93 208.13L462.54 208.9L463.18 210.56L464.38 212.07L464.86 213.93L466.34 214.81L466.36 216.54"/>
</g>
<!-- frame and ticks -->
<g fill="none" stroke="#000" stroke-width="1.3">
<rect x="27.6" y="23.6" width="590.2" height="722.4"/>
<path d="M97 18.5V23.6M241 18.5V23.6M384.5 18.5V23.6M528 18.5V23.6"/>
<path d="M97 746V750.8M241 746V750.8M384.5 746V750.8M528 746V750.8"/>
<path d="M22.5 51H27.6M22.5 194.6H27.6M22.5 338.2H27.6M22.5 481.8H27.6M22.5 625.6H27.6"/>
<path d="M617.8 51H622.6M617.8 194.6H622.6M617.8 338.2H622.6M617.8 481.8H622.6M617.8 625.6H622.6"/>
</g>
<!-- axis labels -->
<g class="ax" text-anchor="middle">
<text x="97" y="762.4">70°0'0"W</text>
<text x="241" y="762.4">60°0'0"W</text>
<text x="384" y="762.4">50°0'0"W</text>
<text x="528.6" y="762.4">40°0'0"W</text>
<text transform="translate(18.6 51) rotate(-90)">10°0'0"N</text>
<text transform="translate(18.6 195.6) rotate(-90)">0°0'0"</text>
<text transform="translate(18.6 338.4) rotate(-90)">10°0'0"S</text>
<text transform="translate(18.6 482) rotate(-90)">20°0'0"S</text>
<text transform="translate(18.6 626) rotate(-90)">30°0'0"S</text>
</g>
<!-- title -->
<text class="title" x="319.5" y="62.3" text-anchor="middle">Previsão de risco</text>
<text class="title" x="318.5" y="93.7" text-anchor="middle">Hidrológico</text>
<!-- legend -->
<g stroke="#151515" stroke-width="1.15">
<rect x="74.4" y="506.8" width="27.4" height="20.4" fill="#ff0000"/>
<rect x="74.4" y="537.4" width="27.4" height="20.4" fill="#f5961f"/>
<rect x="74.4" y="567.8" width="27.4" height="20.4" fill="#ffff00"/>
<rect x="74.4" y="597.6" width="27.4" height="20.4" fill="#ffffff"/>
</g>
<g class="leg">
<text x="110.6" y="520.8">Muito Alto</text>
<text x="110.6" y="551.6">Alto</text>
<text x="110.6" y="582">Moderado</text>
<text x="110.6" y="612">Baixo</text>
</g>
<text class="leg" x="54.4" y="723.3" style="font-size:12.75px">Válida para o dia 01/03/2022</text>
<!-- scale bar -->
<rect x="397.8" y="678" width="155.2" height="10.2" fill="#000"/>
<rect x="417.6" y="679.3" width="19" height="7.6" fill="#fff"/>
<rect x="456" y="679.3" width="19" height="7.6" fill="#fff"/>
<g class="sb" text-anchor="middle">
<text x="397.8" y="673">600</text>
<text x="436.5" y="673">300</text>
<text x="475" y="673">0</text>
<text x="562" y="673">600 km</text>
<text x="484.2" y="703.3" style="font-size:10.7px">1:20000000</text>
</g>
<text class="crs" x="483.2" y="727" text-anchor="middle">Sistemas de Coordenadas: GCS WGS - 1984</text>
<text class="crs" x="483" y="741.5" text-anchor="middle">Datum: WGS - 1984</text>
<!-- Cemaden logo -->
<defs>
<linearGradient id="gLid" x1="0" y1="62" x2="0" y2="108" gradientUnits="userSpaceOnUse"><stop offset="0" stop-color="#1a55c0"/><stop offset="1" stop-color="#2c9be6"/></linearGradient>
<linearGradient id="gIris" x1="0" y1="77" x2="0" y2="106" gradientUnits="userSpaceOnUse"><stop offset="0" stop-color="#49bcf4"/><stop offset="1" stop-color="#279ae6"/></linearGradient>
<linearGradient id="gSilver" x1="0" y1="58" x2="0" y2="100" gradientUnits="userSpaceOnUse"><stop offset="0" stop-color="#f7f8f9"/><stop offset="0.5" stop-color="#e3e6ea"/><stop offset="1" stop-color="#b3bac4"/></linearGradient>
<linearGradient id="gOrange" x1="540" y1="84" x2="560" y2="70" gradientUnits="userSpaceOnUse"><stop offset="0" stop-color="#f47a1f"/><stop offset="1" stop-color="#fdb515"/></linearGradient>
<linearGradient id="gGreen" x1="524" y1="0" x2="561" y2="0" gradientUnits="userSpaceOnUse"><stop offset="0" stop-color="#6db82a"/><stop offset="1" stop-color="#2f8f1e"/></linearGradient>
<clipPath id="cIris"><ellipse cx="535.6" cy="78.8" rx="25.3" ry="28.4"/></clipPath>
</defs>
<g>
<!-- navy upper lid -->
<path fill="#0d3673" d="M491.7 78C497 69 506 58 520 52.5C528 49.8 540 49 550 53.5C563 59 573 68 579.4 78L558.7 93.6C565 87 568.6 79 565.3 66.8C562 59 552 53.2 540.5 51L538 58L517.4 60.8C511 61.2 503 65 496.3 71.6Z"/>
<!-- blue lower lid -->
<path fill="url(#gLid)" d="M579.4 78.3C577 86 571 95 553 104.4C545 107.7 532 109 520 105.5C507 100 498 90 491.7 78.3L513 64.3C508 70 503.2 78 504.7 87.7C507 95 515 102 534.7 107.6L554.5 97Z"/>
<!-- iris -->
<g clip-path="url(#cIris)">
<rect x="508" y="49" width="56" height="28.3" fill="#0d3673"/>
<rect x="508" y="77.3" width="56" height="31" fill="url(#gIris)"/>
<!-- wave -->
<path fill="#2a90e4" d="M523 80L562 78L562 86.8L546 86.8L546 92L523 92Z"/>
<path fill="url(#gOrange)" d="M530 83.2C536 83 542 81.5 548.7 76.8C552 74 555 70.5 558.7 69.2L563 68.5L563 80L548 80.6Z"/>
<path fill="url(#gGreen)" d="M523.5 80.2C526 81.4 529 83 532 83.1C538 83.2 543 81.8 548.7 79.8C553 78.6 557 78.8 563 78.9L563 85.2C557 85 553 84.6 548.7 85.3C543 86.6 538 87 534.7 86.8C530 86.4 526.5 84 523.5 81.5Z"/>
</g>
<!-- silver C ring -->
<path fill="url(#gSilver)" d="M554.95 70.2A20.4 20.4 0 1 0 555.3 86.8L545.7 86.8A12.1 12.1 0 1 1 544.9 70.2Z"/>
<!-- inner pupil navy top -->
<path fill="#0d3673" d="M524.4 80.4A12.1 12.1 0 0 1 544.9 70.2L555 70.2C552 73 549.5 76 546 78.4C541 81.6 536 83 531.5 83.1C528.5 83 526 81.6 524.4 80.4Z"/>
</g>
<text class="logo" x="482.9" y="127.3" textLength="107.4" lengthAdjust="spacingAndGlyphs" stroke="#fff" stroke-width="0.35">Cemaden</text>
<!-- north arrow -->
<g stroke="#111" stroke-width="0.7" stroke-linejoin="miter">
<path d="M485.2 605.2L482.2 618.4L485.2 626.3Z" fill="#fff"/>
<path d="M485.2 605.2L488.2 618.4L485.2 626.3Z" fill="#111"/>
<path d="M485.2 647.2L482.2 634.2L485.2 626.3Z" fill="#111"/>
<path d="M485.2 647.2L488.2 634.2L485.2 626.3Z" fill="#fff"/>
<path d="M464.8 626.3L477.4 623.3L485.2 626.3Z" fill="#111"/>
<path d="M464.8 626.3L477.4 629.3L485.2 626.3Z" fill="#fff"/>
<path d="M505 626.3L493 623.3L485.2 626.3Z" fill="#fff"/>
<path d="M505 626.3L493 629.3L485.2 626.3Z" fill="#111"/>
<circle cx="485.2" cy="626.3" r="8.7" fill="#fff" stroke-width="1"/>
<path d="M485.2 626.3V619.2A7.1 7.1 0 0 1 492.3 626.3Z" fill="#111" stroke="none"/>
<path d="M485.2 626.3V633.4A7.1 7.1 0 0 1 478.1 626.3Z" fill="#111" stroke="none"/>
</g>
<g class="cmp" text-anchor="middle">
<text x="484.9" y="603">N</text>
<text x="484.9" y="656.8">S</text>
<text x="458.8" y="629.6">W</text>
<text x="510.6" y="629.8">E</text>
</g>
</svg>
</body>
</html>
